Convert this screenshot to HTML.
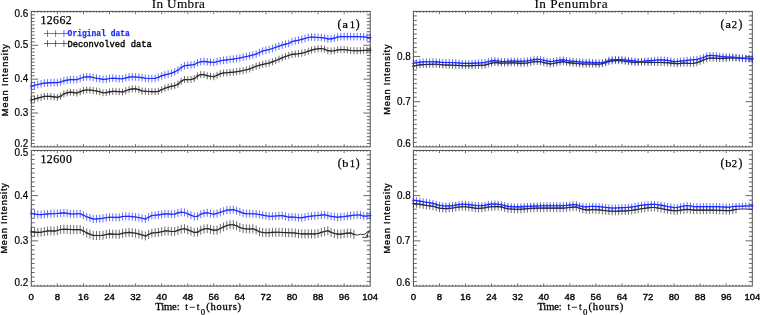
<!DOCTYPE html>
<html><head><meta charset="utf-8"><style>
html,body{margin:0;padding:0;background:#fff;width:760px;height:315px;overflow:hidden}
svg{display:block;filter:blur(0.4px)}
</style></head><body>
<svg width="760" height="315" viewBox="0 0 760 315" font-family="Liberation Serif">
<rect width="760" height="315" fill="#fff"/>
<path d="M34.56 146.9v-1.35M34.56 11.4v1.35M37.82 146.9v-1.35M37.82 11.4v1.35M41.08 146.9v-1.35M41.08 11.4v1.35M44.33 146.9v-1.35M44.33 11.4v1.35M47.59 146.9v-1.35M47.59 11.4v1.35M50.85 146.9v-1.35M50.85 11.4v1.35M54.11 146.9v-1.35M54.11 11.4v1.35M57.37 146.9v-2.7M57.37 11.4v2.7M60.63 146.9v-1.35M60.63 11.4v1.35M63.89 146.9v-1.35M63.89 11.4v1.35M67.15 146.9v-1.35M67.15 11.4v1.35M70.4 146.9v-1.35M70.4 11.4v1.35M73.66 146.9v-1.35M73.66 11.4v1.35M76.92 146.9v-1.35M76.92 11.4v1.35M80.18 146.9v-1.35M80.18 11.4v1.35M83.44 146.9v-2.7M83.44 11.4v2.7M86.7 146.9v-1.35M86.7 11.4v1.35M89.96 146.9v-1.35M89.96 11.4v1.35M93.21 146.9v-1.35M93.21 11.4v1.35M96.47 146.9v-1.35M96.47 11.4v1.35M99.73 146.9v-1.35M99.73 11.4v1.35M102.99 146.9v-1.35M102.99 11.4v1.35M106.25 146.9v-1.35M106.25 11.4v1.35M109.51 146.9v-2.7M109.51 11.4v2.7M112.77 146.9v-1.35M112.77 11.4v1.35M116.02 146.9v-1.35M116.02 11.4v1.35M119.28 146.9v-1.35M119.28 11.4v1.35M122.54 146.9v-1.35M122.54 11.4v1.35M125.8 146.9v-1.35M125.8 11.4v1.35M129.06 146.9v-1.35M129.06 11.4v1.35M132.32 146.9v-1.35M132.32 11.4v1.35M135.58 146.9v-2.7M135.58 11.4v2.7M138.84 146.9v-1.35M138.84 11.4v1.35M142.09 146.9v-1.35M142.09 11.4v1.35M145.35 146.9v-1.35M145.35 11.4v1.35M148.61 146.9v-1.35M148.61 11.4v1.35M151.87 146.9v-1.35M151.87 11.4v1.35M155.13 146.9v-1.35M155.13 11.4v1.35M158.39 146.9v-1.35M158.39 11.4v1.35M161.65 146.9v-2.7M161.65 11.4v2.7M164.9 146.9v-1.35M164.9 11.4v1.35M168.16 146.9v-1.35M168.16 11.4v1.35M171.42 146.9v-1.35M171.42 11.4v1.35M174.68 146.9v-1.35M174.68 11.4v1.35M177.94 146.9v-1.35M177.94 11.4v1.35M181.2 146.9v-1.35M181.2 11.4v1.35M184.46 146.9v-1.35M184.46 11.4v1.35M187.72 146.9v-2.7M187.72 11.4v2.7M190.97 146.9v-1.35M190.97 11.4v1.35M194.23 146.9v-1.35M194.23 11.4v1.35M197.49 146.9v-1.35M197.49 11.4v1.35M200.75 146.9v-1.35M200.75 11.4v1.35M204.01 146.9v-1.35M204.01 11.4v1.35M207.27 146.9v-1.35M207.27 11.4v1.35M210.53 146.9v-1.35M210.53 11.4v1.35M213.78 146.9v-2.7M213.78 11.4v2.7M217.04 146.9v-1.35M217.04 11.4v1.35M220.3 146.9v-1.35M220.3 11.4v1.35M223.56 146.9v-1.35M223.56 11.4v1.35M226.82 146.9v-1.35M226.82 11.4v1.35M230.08 146.9v-1.35M230.08 11.4v1.35M233.34 146.9v-1.35M233.34 11.4v1.35M236.6 146.9v-1.35M236.6 11.4v1.35M239.85 146.9v-2.7M239.85 11.4v2.7M243.11 146.9v-1.35M243.11 11.4v1.35M246.37 146.9v-1.35M246.37 11.4v1.35M249.63 146.9v-1.35M249.63 11.4v1.35M252.89 146.9v-1.35M252.89 11.4v1.35M256.15 146.9v-1.35M256.15 11.4v1.35M259.41 146.9v-1.35M259.41 11.4v1.35M262.66 146.9v-1.35M262.66 11.4v1.35M265.92 146.9v-2.7M265.92 11.4v2.7M269.18 146.9v-1.35M269.18 11.4v1.35M272.44 146.9v-1.35M272.44 11.4v1.35M275.7 146.9v-1.35M275.7 11.4v1.35M278.96 146.9v-1.35M278.96 11.4v1.35M282.22 146.9v-1.35M282.22 11.4v1.35M285.47 146.9v-1.35M285.47 11.4v1.35M288.73 146.9v-1.35M288.73 11.4v1.35M291.99 146.9v-2.7M291.99 11.4v2.7M295.25 146.9v-1.35M295.25 11.4v1.35M298.51 146.9v-1.35M298.51 11.4v1.35M301.77 146.9v-1.35M301.77 11.4v1.35M305.03 146.9v-1.35M305.03 11.4v1.35M308.29 146.9v-1.35M308.29 11.4v1.35M311.54 146.9v-1.35M311.54 11.4v1.35M314.8 146.9v-1.35M314.8 11.4v1.35M318.06 146.9v-2.7M318.06 11.4v2.7M321.32 146.9v-1.35M321.32 11.4v1.35M324.58 146.9v-1.35M324.58 11.4v1.35M327.84 146.9v-1.35M327.84 11.4v1.35M331.1 146.9v-1.35M331.1 11.4v1.35M334.35 146.9v-1.35M334.35 11.4v1.35M337.61 146.9v-1.35M337.61 11.4v1.35M340.87 146.9v-1.35M340.87 11.4v1.35M344.13 146.9v-2.7M344.13 11.4v2.7M347.39 146.9v-1.35M347.39 11.4v1.35M350.65 146.9v-1.35M350.65 11.4v1.35M353.91 146.9v-1.35M353.91 11.4v1.35M357.17 146.9v-1.35M357.17 11.4v1.35M360.42 146.9v-1.35M360.42 11.4v1.35M363.68 146.9v-1.35M363.68 11.4v1.35M366.94 146.9v-1.35M366.94 11.4v1.35M31.3 143.51h3.4M370.2 143.51h-3.4M31.3 140.12h3.4M370.2 140.12h-3.4M31.3 136.74h3.4M370.2 136.74h-3.4M31.3 133.35h3.4M370.2 133.35h-3.4M31.3 129.96h3.4M370.2 129.96h-3.4M31.3 126.58h3.4M370.2 126.58h-3.4M31.3 123.19h3.4M370.2 123.19h-3.4M31.3 119.8h3.4M370.2 119.8h-3.4M31.3 116.41h3.4M370.2 116.41h-3.4M31.3 113.03h6.8M370.2 113.03h-6.8M31.3 109.64h3.4M370.2 109.64h-3.4M31.3 106.25h3.4M370.2 106.25h-3.4M31.3 102.86h3.4M370.2 102.86h-3.4M31.3 99.48h3.4M370.2 99.48h-3.4M31.3 96.09h3.4M370.2 96.09h-3.4M31.3 92.7h3.4M370.2 92.7h-3.4M31.3 89.31h3.4M370.2 89.31h-3.4M31.3 85.93h3.4M370.2 85.93h-3.4M31.3 82.54h3.4M370.2 82.54h-3.4M31.3 79.15h6.8M370.2 79.15h-6.8M31.3 75.76h3.4M370.2 75.76h-3.4M31.3 72.38h3.4M370.2 72.38h-3.4M31.3 68.99h3.4M370.2 68.99h-3.4M31.3 65.6h3.4M370.2 65.6h-3.4M31.3 62.21h3.4M370.2 62.21h-3.4M31.3 58.83h3.4M370.2 58.83h-3.4M31.3 55.44h3.4M370.2 55.44h-3.4M31.3 52.05h3.4M370.2 52.05h-3.4M31.3 48.66h3.4M370.2 48.66h-3.4M31.3 45.28h6.8M370.2 45.28h-6.8M31.3 41.89h3.4M370.2 41.89h-3.4M31.3 38.5h3.4M370.2 38.5h-3.4M31.3 35.11h3.4M370.2 35.11h-3.4M31.3 31.73h3.4M370.2 31.73h-3.4M31.3 28.34h3.4M370.2 28.34h-3.4M31.3 24.95h3.4M370.2 24.95h-3.4M31.3 21.56h3.4M370.2 21.56h-3.4M31.3 18.18h3.4M370.2 18.18h-3.4M31.3 14.79h3.4M370.2 14.79h-3.4" stroke="#4d4d4d" stroke-width="0.85" fill="none"/>
<rect x="31.3" y="11.4" width="338.9" height="135.5" stroke="#4d4d4d" stroke-width="1.0" fill="none"/>
<path d="M34.56 286.1v-1.35M34.56 150.4v1.35M37.82 286.1v-1.35M37.82 150.4v1.35M41.08 286.1v-1.35M41.08 150.4v1.35M44.33 286.1v-1.35M44.33 150.4v1.35M47.59 286.1v-1.35M47.59 150.4v1.35M50.85 286.1v-1.35M50.85 150.4v1.35M54.11 286.1v-1.35M54.11 150.4v1.35M57.37 286.1v-2.7M57.37 150.4v2.7M60.63 286.1v-1.35M60.63 150.4v1.35M63.89 286.1v-1.35M63.89 150.4v1.35M67.15 286.1v-1.35M67.15 150.4v1.35M70.4 286.1v-1.35M70.4 150.4v1.35M73.66 286.1v-1.35M73.66 150.4v1.35M76.92 286.1v-1.35M76.92 150.4v1.35M80.18 286.1v-1.35M80.18 150.4v1.35M83.44 286.1v-2.7M83.44 150.4v2.7M86.7 286.1v-1.35M86.7 150.4v1.35M89.96 286.1v-1.35M89.96 150.4v1.35M93.21 286.1v-1.35M93.21 150.4v1.35M96.47 286.1v-1.35M96.47 150.4v1.35M99.73 286.1v-1.35M99.73 150.4v1.35M102.99 286.1v-1.35M102.99 150.4v1.35M106.25 286.1v-1.35M106.25 150.4v1.35M109.51 286.1v-2.7M109.51 150.4v2.7M112.77 286.1v-1.35M112.77 150.4v1.35M116.02 286.1v-1.35M116.02 150.4v1.35M119.28 286.1v-1.35M119.28 150.4v1.35M122.54 286.1v-1.35M122.54 150.4v1.35M125.8 286.1v-1.35M125.8 150.4v1.35M129.06 286.1v-1.35M129.06 150.4v1.35M132.32 286.1v-1.35M132.32 150.4v1.35M135.58 286.1v-2.7M135.58 150.4v2.7M138.84 286.1v-1.35M138.84 150.4v1.35M142.09 286.1v-1.35M142.09 150.4v1.35M145.35 286.1v-1.35M145.35 150.4v1.35M148.61 286.1v-1.35M148.61 150.4v1.35M151.87 286.1v-1.35M151.87 150.4v1.35M155.13 286.1v-1.35M155.13 150.4v1.35M158.39 286.1v-1.35M158.39 150.4v1.35M161.65 286.1v-2.7M161.65 150.4v2.7M164.9 286.1v-1.35M164.9 150.4v1.35M168.16 286.1v-1.35M168.16 150.4v1.35M171.42 286.1v-1.35M171.42 150.4v1.35M174.68 286.1v-1.35M174.68 150.4v1.35M177.94 286.1v-1.35M177.94 150.4v1.35M181.2 286.1v-1.35M181.2 150.4v1.35M184.46 286.1v-1.35M184.46 150.4v1.35M187.72 286.1v-2.7M187.72 150.4v2.7M190.97 286.1v-1.35M190.97 150.4v1.35M194.23 286.1v-1.35M194.23 150.4v1.35M197.49 286.1v-1.35M197.49 150.4v1.35M200.75 286.1v-1.35M200.75 150.4v1.35M204.01 286.1v-1.35M204.01 150.4v1.35M207.27 286.1v-1.35M207.27 150.4v1.35M210.53 286.1v-1.35M210.53 150.4v1.35M213.78 286.1v-2.7M213.78 150.4v2.7M217.04 286.1v-1.35M217.04 150.4v1.35M220.3 286.1v-1.35M220.3 150.4v1.35M223.56 286.1v-1.35M223.56 150.4v1.35M226.82 286.1v-1.35M226.82 150.4v1.35M230.08 286.1v-1.35M230.08 150.4v1.35M233.34 286.1v-1.35M233.34 150.4v1.35M236.6 286.1v-1.35M236.6 150.4v1.35M239.85 286.1v-2.7M239.85 150.4v2.7M243.11 286.1v-1.35M243.11 150.4v1.35M246.37 286.1v-1.35M246.37 150.4v1.35M249.63 286.1v-1.35M249.63 150.4v1.35M252.89 286.1v-1.35M252.89 150.4v1.35M256.15 286.1v-1.35M256.15 150.4v1.35M259.41 286.1v-1.35M259.41 150.4v1.35M262.66 286.1v-1.35M262.66 150.4v1.35M265.92 286.1v-2.7M265.92 150.4v2.7M269.18 286.1v-1.35M269.18 150.4v1.35M272.44 286.1v-1.35M272.44 150.4v1.35M275.7 286.1v-1.35M275.7 150.4v1.35M278.96 286.1v-1.35M278.96 150.4v1.35M282.22 286.1v-1.35M282.22 150.4v1.35M285.47 286.1v-1.35M285.47 150.4v1.35M288.73 286.1v-1.35M288.73 150.4v1.35M291.99 286.1v-2.7M291.99 150.4v2.7M295.25 286.1v-1.35M295.25 150.4v1.35M298.51 286.1v-1.35M298.51 150.4v1.35M301.77 286.1v-1.35M301.77 150.4v1.35M305.03 286.1v-1.35M305.03 150.4v1.35M308.29 286.1v-1.35M308.29 150.4v1.35M311.54 286.1v-1.35M311.54 150.4v1.35M314.8 286.1v-1.35M314.8 150.4v1.35M318.06 286.1v-2.7M318.06 150.4v2.7M321.32 286.1v-1.35M321.32 150.4v1.35M324.58 286.1v-1.35M324.58 150.4v1.35M327.84 286.1v-1.35M327.84 150.4v1.35M331.1 286.1v-1.35M331.1 150.4v1.35M334.35 286.1v-1.35M334.35 150.4v1.35M337.61 286.1v-1.35M337.61 150.4v1.35M340.87 286.1v-1.35M340.87 150.4v1.35M344.13 286.1v-2.7M344.13 150.4v2.7M347.39 286.1v-1.35M347.39 150.4v1.35M350.65 286.1v-1.35M350.65 150.4v1.35M353.91 286.1v-1.35M353.91 150.4v1.35M357.17 286.1v-1.35M357.17 150.4v1.35M360.42 286.1v-1.35M360.42 150.4v1.35M363.68 286.1v-1.35M363.68 150.4v1.35M366.94 286.1v-1.35M366.94 150.4v1.35M31.3 281.58h3.4M370.2 281.58h-3.4M31.3 277.05h3.4M370.2 277.05h-3.4M31.3 272.53h3.4M370.2 272.53h-3.4M31.3 268.01h3.4M370.2 268.01h-3.4M31.3 263.48h3.4M370.2 263.48h-3.4M31.3 258.96h3.4M370.2 258.96h-3.4M31.3 254.44h3.4M370.2 254.44h-3.4M31.3 249.91h3.4M370.2 249.91h-3.4M31.3 245.39h3.4M370.2 245.39h-3.4M31.3 240.87h6.8M370.2 240.87h-6.8M31.3 236.34h3.4M370.2 236.34h-3.4M31.3 231.82h3.4M370.2 231.82h-3.4M31.3 227.3h3.4M370.2 227.3h-3.4M31.3 222.77h3.4M370.2 222.77h-3.4M31.3 218.25h3.4M370.2 218.25h-3.4M31.3 213.73h3.4M370.2 213.73h-3.4M31.3 209.2h3.4M370.2 209.2h-3.4M31.3 204.68h3.4M370.2 204.68h-3.4M31.3 200.16h3.4M370.2 200.16h-3.4M31.3 195.63h6.8M370.2 195.63h-6.8M31.3 191.11h3.4M370.2 191.11h-3.4M31.3 186.59h3.4M370.2 186.59h-3.4M31.3 182.06h3.4M370.2 182.06h-3.4M31.3 177.54h3.4M370.2 177.54h-3.4M31.3 173.02h3.4M370.2 173.02h-3.4M31.3 168.49h3.4M370.2 168.49h-3.4M31.3 163.97h3.4M370.2 163.97h-3.4M31.3 159.45h3.4M370.2 159.45h-3.4M31.3 154.92h3.4M370.2 154.92h-3.4" stroke="#4d4d4d" stroke-width="0.85" fill="none"/>
<rect x="31.3" y="150.4" width="338.9" height="135.7" stroke="#4d4d4d" stroke-width="1.0" fill="none"/>
<path d="M416.66 146.9v-1.35M416.66 11.4v1.35M419.92 146.9v-1.35M419.92 11.4v1.35M423.18 146.9v-1.35M423.18 11.4v1.35M426.43 146.9v-1.35M426.43 11.4v1.35M429.69 146.9v-1.35M429.69 11.4v1.35M432.95 146.9v-1.35M432.95 11.4v1.35M436.21 146.9v-1.35M436.21 11.4v1.35M439.47 146.9v-2.7M439.47 11.4v2.7M442.73 146.9v-1.35M442.73 11.4v1.35M445.99 146.9v-1.35M445.99 11.4v1.35M449.25 146.9v-1.35M449.25 11.4v1.35M452.5 146.9v-1.35M452.5 11.4v1.35M455.76 146.9v-1.35M455.76 11.4v1.35M459.02 146.9v-1.35M459.02 11.4v1.35M462.28 146.9v-1.35M462.28 11.4v1.35M465.54 146.9v-2.7M465.54 11.4v2.7M468.8 146.9v-1.35M468.8 11.4v1.35M472.06 146.9v-1.35M472.06 11.4v1.35M475.31 146.9v-1.35M475.31 11.4v1.35M478.57 146.9v-1.35M478.57 11.4v1.35M481.83 146.9v-1.35M481.83 11.4v1.35M485.09 146.9v-1.35M485.09 11.4v1.35M488.35 146.9v-1.35M488.35 11.4v1.35M491.61 146.9v-2.7M491.61 11.4v2.7M494.87 146.9v-1.35M494.87 11.4v1.35M498.12 146.9v-1.35M498.12 11.4v1.35M501.38 146.9v-1.35M501.38 11.4v1.35M504.64 146.9v-1.35M504.64 11.4v1.35M507.9 146.9v-1.35M507.9 11.4v1.35M511.16 146.9v-1.35M511.16 11.4v1.35M514.42 146.9v-1.35M514.42 11.4v1.35M517.68 146.9v-2.7M517.68 11.4v2.7M520.94 146.9v-1.35M520.94 11.4v1.35M524.19 146.9v-1.35M524.19 11.4v1.35M527.45 146.9v-1.35M527.45 11.4v1.35M530.71 146.9v-1.35M530.71 11.4v1.35M533.97 146.9v-1.35M533.97 11.4v1.35M537.23 146.9v-1.35M537.23 11.4v1.35M540.49 146.9v-1.35M540.49 11.4v1.35M543.75 146.9v-2.7M543.75 11.4v2.7M547 146.9v-1.35M547 11.4v1.35M550.26 146.9v-1.35M550.26 11.4v1.35M553.52 146.9v-1.35M553.52 11.4v1.35M556.78 146.9v-1.35M556.78 11.4v1.35M560.04 146.9v-1.35M560.04 11.4v1.35M563.3 146.9v-1.35M563.3 11.4v1.35M566.56 146.9v-1.35M566.56 11.4v1.35M569.82 146.9v-2.7M569.82 11.4v2.7M573.07 146.9v-1.35M573.07 11.4v1.35M576.33 146.9v-1.35M576.33 11.4v1.35M579.59 146.9v-1.35M579.59 11.4v1.35M582.85 146.9v-1.35M582.85 11.4v1.35M586.11 146.9v-1.35M586.11 11.4v1.35M589.37 146.9v-1.35M589.37 11.4v1.35M592.63 146.9v-1.35M592.63 11.4v1.35M595.88 146.9v-2.7M595.88 11.4v2.7M599.14 146.9v-1.35M599.14 11.4v1.35M602.4 146.9v-1.35M602.4 11.4v1.35M605.66 146.9v-1.35M605.66 11.4v1.35M608.92 146.9v-1.35M608.92 11.4v1.35M612.18 146.9v-1.35M612.18 11.4v1.35M615.44 146.9v-1.35M615.44 11.4v1.35M618.7 146.9v-1.35M618.7 11.4v1.35M621.95 146.9v-2.7M621.95 11.4v2.7M625.21 146.9v-1.35M625.21 11.4v1.35M628.47 146.9v-1.35M628.47 11.4v1.35M631.73 146.9v-1.35M631.73 11.4v1.35M634.99 146.9v-1.35M634.99 11.4v1.35M638.25 146.9v-1.35M638.25 11.4v1.35M641.51 146.9v-1.35M641.51 11.4v1.35M644.76 146.9v-1.35M644.76 11.4v1.35M648.02 146.9v-2.7M648.02 11.4v2.7M651.28 146.9v-1.35M651.28 11.4v1.35M654.54 146.9v-1.35M654.54 11.4v1.35M657.8 146.9v-1.35M657.8 11.4v1.35M661.06 146.9v-1.35M661.06 11.4v1.35M664.32 146.9v-1.35M664.32 11.4v1.35M667.57 146.9v-1.35M667.57 11.4v1.35M670.83 146.9v-1.35M670.83 11.4v1.35M674.09 146.9v-2.7M674.09 11.4v2.7M677.35 146.9v-1.35M677.35 11.4v1.35M680.61 146.9v-1.35M680.61 11.4v1.35M683.87 146.9v-1.35M683.87 11.4v1.35M687.13 146.9v-1.35M687.13 11.4v1.35M690.39 146.9v-1.35M690.39 11.4v1.35M693.64 146.9v-1.35M693.64 11.4v1.35M696.9 146.9v-1.35M696.9 11.4v1.35M700.16 146.9v-2.7M700.16 11.4v2.7M703.42 146.9v-1.35M703.42 11.4v1.35M706.68 146.9v-1.35M706.68 11.4v1.35M709.94 146.9v-1.35M709.94 11.4v1.35M713.2 146.9v-1.35M713.2 11.4v1.35M716.45 146.9v-1.35M716.45 11.4v1.35M719.71 146.9v-1.35M719.71 11.4v1.35M722.97 146.9v-1.35M722.97 11.4v1.35M726.23 146.9v-2.7M726.23 11.4v2.7M729.49 146.9v-1.35M729.49 11.4v1.35M732.75 146.9v-1.35M732.75 11.4v1.35M736.01 146.9v-1.35M736.01 11.4v1.35M739.27 146.9v-1.35M739.27 11.4v1.35M742.52 146.9v-1.35M742.52 11.4v1.35M745.78 146.9v-1.35M745.78 11.4v1.35M749.04 146.9v-1.35M749.04 11.4v1.35M413.4 142.38h3.4M752.3 142.38h-3.4M413.4 137.87h3.4M752.3 137.87h-3.4M413.4 133.35h3.4M752.3 133.35h-3.4M413.4 128.83h3.4M752.3 128.83h-3.4M413.4 124.32h3.4M752.3 124.32h-3.4M413.4 119.8h3.4M752.3 119.8h-3.4M413.4 115.28h3.4M752.3 115.28h-3.4M413.4 110.77h3.4M752.3 110.77h-3.4M413.4 106.25h3.4M752.3 106.25h-3.4M413.4 101.73h6.8M752.3 101.73h-6.8M413.4 97.22h3.4M752.3 97.22h-3.4M413.4 92.7h3.4M752.3 92.7h-3.4M413.4 88.18h3.4M752.3 88.18h-3.4M413.4 83.67h3.4M752.3 83.67h-3.4M413.4 79.15h3.4M752.3 79.15h-3.4M413.4 74.63h3.4M752.3 74.63h-3.4M413.4 70.12h3.4M752.3 70.12h-3.4M413.4 65.6h3.4M752.3 65.6h-3.4M413.4 61.08h3.4M752.3 61.08h-3.4M413.4 56.57h6.8M752.3 56.57h-6.8M413.4 52.05h3.4M752.3 52.05h-3.4M413.4 47.53h3.4M752.3 47.53h-3.4M413.4 43.02h3.4M752.3 43.02h-3.4M413.4 38.5h3.4M752.3 38.5h-3.4M413.4 33.98h3.4M752.3 33.98h-3.4M413.4 29.47h3.4M752.3 29.47h-3.4M413.4 24.95h3.4M752.3 24.95h-3.4M413.4 20.43h3.4M752.3 20.43h-3.4M413.4 15.92h3.4M752.3 15.92h-3.4" stroke="#4d4d4d" stroke-width="0.85" fill="none"/>
<rect x="413.4" y="11.4" width="338.9" height="135.5" stroke="#4d4d4d" stroke-width="1.0" fill="none"/>
<path d="M416.66 286.1v-1.35M416.66 150.4v1.35M419.92 286.1v-1.35M419.92 150.4v1.35M423.18 286.1v-1.35M423.18 150.4v1.35M426.43 286.1v-1.35M426.43 150.4v1.35M429.69 286.1v-1.35M429.69 150.4v1.35M432.95 286.1v-1.35M432.95 150.4v1.35M436.21 286.1v-1.35M436.21 150.4v1.35M439.47 286.1v-2.7M439.47 150.4v2.7M442.73 286.1v-1.35M442.73 150.4v1.35M445.99 286.1v-1.35M445.99 150.4v1.35M449.25 286.1v-1.35M449.25 150.4v1.35M452.5 286.1v-1.35M452.5 150.4v1.35M455.76 286.1v-1.35M455.76 150.4v1.35M459.02 286.1v-1.35M459.02 150.4v1.35M462.28 286.1v-1.35M462.28 150.4v1.35M465.54 286.1v-2.7M465.54 150.4v2.7M468.8 286.1v-1.35M468.8 150.4v1.35M472.06 286.1v-1.35M472.06 150.4v1.35M475.31 286.1v-1.35M475.31 150.4v1.35M478.57 286.1v-1.35M478.57 150.4v1.35M481.83 286.1v-1.35M481.83 150.4v1.35M485.09 286.1v-1.35M485.09 150.4v1.35M488.35 286.1v-1.35M488.35 150.4v1.35M491.61 286.1v-2.7M491.61 150.4v2.7M494.87 286.1v-1.35M494.87 150.4v1.35M498.12 286.1v-1.35M498.12 150.4v1.35M501.38 286.1v-1.35M501.38 150.4v1.35M504.64 286.1v-1.35M504.64 150.4v1.35M507.9 286.1v-1.35M507.9 150.4v1.35M511.16 286.1v-1.35M511.16 150.4v1.35M514.42 286.1v-1.35M514.42 150.4v1.35M517.68 286.1v-2.7M517.68 150.4v2.7M520.94 286.1v-1.35M520.94 150.4v1.35M524.19 286.1v-1.35M524.19 150.4v1.35M527.45 286.1v-1.35M527.45 150.4v1.35M530.71 286.1v-1.35M530.71 150.4v1.35M533.97 286.1v-1.35M533.97 150.4v1.35M537.23 286.1v-1.35M537.23 150.4v1.35M540.49 286.1v-1.35M540.49 150.4v1.35M543.75 286.1v-2.7M543.75 150.4v2.7M547 286.1v-1.35M547 150.4v1.35M550.26 286.1v-1.35M550.26 150.4v1.35M553.52 286.1v-1.35M553.52 150.4v1.35M556.78 286.1v-1.35M556.78 150.4v1.35M560.04 286.1v-1.35M560.04 150.4v1.35M563.3 286.1v-1.35M563.3 150.4v1.35M566.56 286.1v-1.35M566.56 150.4v1.35M569.82 286.1v-2.7M569.82 150.4v2.7M573.07 286.1v-1.35M573.07 150.4v1.35M576.33 286.1v-1.35M576.33 150.4v1.35M579.59 286.1v-1.35M579.59 150.4v1.35M582.85 286.1v-1.35M582.85 150.4v1.35M586.11 286.1v-1.35M586.11 150.4v1.35M589.37 286.1v-1.35M589.37 150.4v1.35M592.63 286.1v-1.35M592.63 150.4v1.35M595.88 286.1v-2.7M595.88 150.4v2.7M599.14 286.1v-1.35M599.14 150.4v1.35M602.4 286.1v-1.35M602.4 150.4v1.35M605.66 286.1v-1.35M605.66 150.4v1.35M608.92 286.1v-1.35M608.92 150.4v1.35M612.18 286.1v-1.35M612.18 150.4v1.35M615.44 286.1v-1.35M615.44 150.4v1.35M618.7 286.1v-1.35M618.7 150.4v1.35M621.95 286.1v-2.7M621.95 150.4v2.7M625.21 286.1v-1.35M625.21 150.4v1.35M628.47 286.1v-1.35M628.47 150.4v1.35M631.73 286.1v-1.35M631.73 150.4v1.35M634.99 286.1v-1.35M634.99 150.4v1.35M638.25 286.1v-1.35M638.25 150.4v1.35M641.51 286.1v-1.35M641.51 150.4v1.35M644.76 286.1v-1.35M644.76 150.4v1.35M648.02 286.1v-2.7M648.02 150.4v2.7M651.28 286.1v-1.35M651.28 150.4v1.35M654.54 286.1v-1.35M654.54 150.4v1.35M657.8 286.1v-1.35M657.8 150.4v1.35M661.06 286.1v-1.35M661.06 150.4v1.35M664.32 286.1v-1.35M664.32 150.4v1.35M667.57 286.1v-1.35M667.57 150.4v1.35M670.83 286.1v-1.35M670.83 150.4v1.35M674.09 286.1v-2.7M674.09 150.4v2.7M677.35 286.1v-1.35M677.35 150.4v1.35M680.61 286.1v-1.35M680.61 150.4v1.35M683.87 286.1v-1.35M683.87 150.4v1.35M687.13 286.1v-1.35M687.13 150.4v1.35M690.39 286.1v-1.35M690.39 150.4v1.35M693.64 286.1v-1.35M693.64 150.4v1.35M696.9 286.1v-1.35M696.9 150.4v1.35M700.16 286.1v-2.7M700.16 150.4v2.7M703.42 286.1v-1.35M703.42 150.4v1.35M706.68 286.1v-1.35M706.68 150.4v1.35M709.94 286.1v-1.35M709.94 150.4v1.35M713.2 286.1v-1.35M713.2 150.4v1.35M716.45 286.1v-1.35M716.45 150.4v1.35M719.71 286.1v-1.35M719.71 150.4v1.35M722.97 286.1v-1.35M722.97 150.4v1.35M726.23 286.1v-2.7M726.23 150.4v2.7M729.49 286.1v-1.35M729.49 150.4v1.35M732.75 286.1v-1.35M732.75 150.4v1.35M736.01 286.1v-1.35M736.01 150.4v1.35M739.27 286.1v-1.35M739.27 150.4v1.35M742.52 286.1v-1.35M742.52 150.4v1.35M745.78 286.1v-1.35M745.78 150.4v1.35M749.04 286.1v-1.35M749.04 150.4v1.35M413.4 281.58h3.4M752.3 281.58h-3.4M413.4 277.05h3.4M752.3 277.05h-3.4M413.4 272.53h3.4M752.3 272.53h-3.4M413.4 268.01h3.4M752.3 268.01h-3.4M413.4 263.48h3.4M752.3 263.48h-3.4M413.4 258.96h3.4M752.3 258.96h-3.4M413.4 254.44h3.4M752.3 254.44h-3.4M413.4 249.91h3.4M752.3 249.91h-3.4M413.4 245.39h3.4M752.3 245.39h-3.4M413.4 240.87h6.8M752.3 240.87h-6.8M413.4 236.34h3.4M752.3 236.34h-3.4M413.4 231.82h3.4M752.3 231.82h-3.4M413.4 227.3h3.4M752.3 227.3h-3.4M413.4 222.77h3.4M752.3 222.77h-3.4M413.4 218.25h3.4M752.3 218.25h-3.4M413.4 213.73h3.4M752.3 213.73h-3.4M413.4 209.2h3.4M752.3 209.2h-3.4M413.4 204.68h3.4M752.3 204.68h-3.4M413.4 200.16h3.4M752.3 200.16h-3.4M413.4 195.63h6.8M752.3 195.63h-6.8M413.4 191.11h3.4M752.3 191.11h-3.4M413.4 186.59h3.4M752.3 186.59h-3.4M413.4 182.06h3.4M752.3 182.06h-3.4M413.4 177.54h3.4M752.3 177.54h-3.4M413.4 173.02h3.4M752.3 173.02h-3.4M413.4 168.49h3.4M752.3 168.49h-3.4M413.4 163.97h3.4M752.3 163.97h-3.4M413.4 159.45h3.4M752.3 159.45h-3.4M413.4 154.92h3.4M752.3 154.92h-3.4" stroke="#4d4d4d" stroke-width="0.85" fill="none"/>
<rect x="413.4" y="150.4" width="338.9" height="135.7" stroke="#4d4d4d" stroke-width="1.0" fill="none"/>
<polyline points="31.3,100 34.56,99.06 37.82,98.11 41.08,97.25 44.33,96.4 47.59,96.4 50.85,96.4 54.11,96.85 57.37,97.39 60.63,96.18 63.89,93.89 67.15,92.85 70.4,92.16 73.66,92.62 76.92,93.07 80.18,91.77 83.44,90.37 86.7,90 89.96,90 93.21,90.5 96.47,91 99.73,91.83 102.99,92.74 106.25,92.63 109.51,91.85 112.77,91.4 116.02,91.4 119.28,91.68 122.54,92.03 125.8,90.81 129.06,89.59 132.32,88.9 135.58,88.9 138.84,89.62 142.09,91.01 145.35,91.25 148.61,91.5 151.87,91.6 155.13,91.6 158.39,91.35 161.65,89.7 164.9,88.19 168.16,87.22 171.42,86.33 174.68,85.66 177.94,84.26 181.2,81.3 184.46,79.47 187.72,79.68 190.97,79.46 194.23,78.64 197.49,75.97 200.75,74.6 204.01,74.64 207.27,75.84 210.53,76.3 213.78,76.77 217.04,75.28 220.3,73.65 223.56,73.04 226.82,72.72 230.08,72.42 233.34,72.14 236.6,71.73 239.85,71.17 243.11,70.55 246.37,69.8 249.63,68.94 252.89,67.57 256.15,66.23 259.41,65.3 262.66,64.37 265.92,63.7 269.18,63.04 272.44,61.88 275.7,60.58 278.96,59.22 282.22,57.82 285.47,56.55 288.73,55.43 291.99,54.35 295.25,54.09 298.51,53.76 301.77,53.19 305.03,52.41 308.29,51.19 311.54,50.11 314.8,49.28 318.06,48.74 321.32,48.58 324.58,49.18 327.84,50.67 331.1,51.04 334.35,50.76 337.61,49.95 340.87,49.6 344.13,49.6 347.39,49.96 350.65,50.52 353.91,50.7 357.17,50.7 360.42,50.59 363.68,50.43 366.94,50.27 370.2,50.1" fill="none" stroke="#262626" stroke-width="1.1" stroke-linejoin="round"/><path d="M31.3 96.5v7M29.7 100h3.2M34.56 95.56v7M32.96 99.06h3.2M37.82 94.61v7M36.22 98.11h3.2M41.08 93.75v7M39.48 97.25h3.2M44.33 92.9v7M42.73 96.4h3.2M47.59 92.9v7M45.99 96.4h3.2M50.85 92.9v7M49.25 96.4h3.2M54.11 93.35v7M52.51 96.85h3.2M57.37 93.89v7M55.77 97.39h3.2M60.63 92.68v7M59.03 96.18h3.2M63.89 90.39v7M62.29 93.89h3.2M67.15 89.35v7M65.55 92.85h3.2M70.4 88.66v7M68.8 92.16h3.2M73.66 89.12v7M72.06 92.62h3.2M76.92 89.57v7M75.32 93.07h3.2M80.18 88.27v7M78.58 91.77h3.2M83.44 86.87v7M81.84 90.37h3.2M86.7 86.5v7M85.1 90h3.2M89.96 86.5v7M88.36 90h3.2M93.21 87v7M91.61 90.5h3.2M96.47 87.5v7M94.87 91h3.2M99.73 88.33v7M98.13 91.83h3.2M102.99 89.24v7M101.39 92.74h3.2M106.25 89.13v7M104.65 92.63h3.2M109.51 88.35v7M107.91 91.85h3.2M112.77 87.9v7M111.17 91.4h3.2M116.02 87.9v7M114.42 91.4h3.2M119.28 88.18v7M117.68 91.68h3.2M122.54 88.53v7M120.94 92.03h3.2M125.8 87.31v7M124.2 90.81h3.2M129.06 86.09v7M127.46 89.59h3.2M132.32 85.4v7M130.72 88.9h3.2M135.58 85.4v7M133.98 88.9h3.2M138.84 86.12v7M137.24 89.62h3.2M142.09 87.51v7M140.49 91.01h3.2M145.35 87.75v7M143.75 91.25h3.2M148.61 88v7M147.01 91.5h3.2M151.87 88.1v7M150.27 91.6h3.2M155.13 88.1v7M153.53 91.6h3.2M158.39 87.85v7M156.79 91.35h3.2M161.65 86.2v7M160.05 89.7h3.2M164.9 84.69v7M163.3 88.19h3.2M168.16 83.72v7M166.56 87.22h3.2M171.42 82.83v7M169.82 86.33h3.2M174.68 82.16v7M173.08 85.66h3.2M177.94 80.76v7M176.34 84.26h3.2M181.2 77.8v7M179.6 81.3h3.2M184.46 75.97v7M182.86 79.47h3.2M187.72 76.18v7M186.12 79.68h3.2M190.97 75.96v7M189.37 79.46h3.2M194.23 75.14v7M192.63 78.64h3.2M197.49 72.47v7M195.89 75.97h3.2M200.75 71.1v7M199.15 74.6h3.2M204.01 71.14v7M202.41 74.64h3.2M207.27 72.34v7M205.67 75.84h3.2M210.53 72.8v7M208.93 76.3h3.2M213.78 73.27v7M212.18 76.77h3.2M217.04 71.78v7M215.44 75.28h3.2M220.3 70.15v7M218.7 73.65h3.2M223.56 69.54v7M221.96 73.04h3.2M226.82 69.22v7M225.22 72.72h3.2M230.08 68.92v7M228.48 72.42h3.2M233.34 68.64v7M231.74 72.14h3.2M236.6 68.23v7M235 71.73h3.2M239.85 67.67v7M238.25 71.17h3.2M243.11 67.05v7M241.51 70.55h3.2M246.37 66.3v7M244.77 69.8h3.2M249.63 65.44v7M248.03 68.94h3.2M252.89 64.07v7M251.29 67.57h3.2M256.15 62.73v7M254.55 66.23h3.2M259.41 61.8v7M257.81 65.3h3.2M262.66 60.87v7M261.06 64.37h3.2M265.92 60.2v7M264.32 63.7h3.2M269.18 59.54v7M267.58 63.04h3.2M272.44 58.38v7M270.84 61.88h3.2M275.7 57.08v7M274.1 60.58h3.2M278.96 55.72v7M277.36 59.22h3.2M282.22 54.32v7M280.62 57.82h3.2M285.47 53.05v7M283.87 56.55h3.2M288.73 51.93v7M287.13 55.43h3.2M291.99 50.85v7M290.39 54.35h3.2M295.25 50.59v7M293.65 54.09h3.2M298.51 50.26v7M296.91 53.76h3.2M301.77 49.69v7M300.17 53.19h3.2M305.03 48.91v7M303.43 52.41h3.2M308.29 47.69v7M306.69 51.19h3.2M311.54 46.61v7M309.94 50.11h3.2M314.8 45.78v7M313.2 49.28h3.2M318.06 45.24v7M316.46 48.74h3.2M321.32 45.08v7M319.72 48.58h3.2M324.58 45.68v7M322.98 49.18h3.2M327.84 47.17v7M326.24 50.67h3.2M331.1 47.54v7M329.5 51.04h3.2M334.35 47.26v7M332.75 50.76h3.2M337.61 46.45v7M336.01 49.95h3.2M340.87 46.1v7M339.27 49.6h3.2M344.13 46.1v7M342.53 49.6h3.2M347.39 46.46v7M345.79 49.96h3.2M350.65 47.02v7M349.05 50.52h3.2M353.91 47.2v7M352.31 50.7h3.2M357.17 47.2v7M355.57 50.7h3.2M360.42 47.09v7M358.82 50.59h3.2M363.68 46.93v7M362.08 50.43h3.2M366.94 46.77v7M365.34 50.27h3.2M370.2 46.6v7M368.6 50.1h3.2" stroke="#262626" stroke-width="0.9" opacity="0.75" fill="none"/>
<polyline points="31.3,86.1 34.56,85.27 37.82,84.45 41.08,83.77 44.33,83.1 47.59,82.87 50.85,82.64 54.11,82.6 57.37,82.6 60.63,81.92 63.89,80.84 67.15,80.15 70.4,79.6 73.66,79.6 76.92,79.6 80.18,78.45 83.44,77.22 86.7,76.9 89.96,76.9 93.21,77.53 96.47,78.18 99.73,78.78 102.99,79.36 106.25,79.19 109.51,78.5 112.77,78.19 116.02,78.42 119.28,78.7 122.54,78.7 125.8,77.92 129.06,77.14 132.32,76.79 135.58,77 138.84,77.2 142.09,77.65 145.35,78.32 148.61,78.54 151.87,78.44 155.13,78.34 158.39,77.34 161.65,75.84 164.9,74.85 168.16,74.08 171.42,73.17 174.68,71.88 177.94,70.17 181.2,67.57 184.46,65.75 187.72,65.34 190.97,64.96 194.23,64.62 197.49,62.82 200.75,61.73 204.01,61.41 207.27,61.83 210.53,62.15 213.78,62.48 217.04,61.67 220.3,60.79 223.56,60.27 226.82,59.85 230.08,59.46 233.34,59.09 236.6,58.58 239.85,57.93 243.11,57.26 246.37,56.56 249.63,55.84 252.89,54.99 256.15,54.08 259.41,52.55 262.66,51.01 265.92,50.25 269.18,49.55 272.44,48.49 275.7,47.33 278.96,46.17 282.22,45 285.47,44.1 288.73,43.47 291.99,41.56 295.25,40.9 298.51,40.19 301.77,39.37 305.03,38.5 308.29,37.53 311.54,36.99 314.8,37.25 318.06,37.46 321.32,37.62 324.58,38.08 327.84,38.9 331.1,38.91 334.35,38.15 337.61,37.06 340.87,36.6 344.13,36.6 347.39,36.6 350.65,36.6 353.91,36.6 357.17,36.6 360.42,36.71 363.68,36.87 366.94,37.25 370.2,37.7" fill="none" stroke="#1a2cff" stroke-width="1.1" stroke-linejoin="round"/><path d="M31.3 82.3v7.6M29.7 86.1h3.2M34.56 81.47v7.6M32.96 85.27h3.2M37.82 80.65v7.6M36.22 84.45h3.2M41.08 79.97v7.6M39.48 83.77h3.2M44.33 79.3v7.6M42.73 83.1h3.2M47.59 79.07v7.6M45.99 82.87h3.2M50.85 78.84v7.6M49.25 82.64h3.2M54.11 78.8v7.6M52.51 82.6h3.2M57.37 78.8v7.6M55.77 82.6h3.2M60.63 78.12v7.6M59.03 81.92h3.2M63.89 77.04v7.6M62.29 80.84h3.2M67.15 76.35v7.6M65.55 80.15h3.2M70.4 75.8v7.6M68.8 79.6h3.2M73.66 75.8v7.6M72.06 79.6h3.2M76.92 75.8v7.6M75.32 79.6h3.2M80.18 74.65v7.6M78.58 78.45h3.2M83.44 73.42v7.6M81.84 77.22h3.2M86.7 73.1v7.6M85.1 76.9h3.2M89.96 73.1v7.6M88.36 76.9h3.2M93.21 73.73v7.6M91.61 77.53h3.2M96.47 74.38v7.6M94.87 78.18h3.2M99.73 74.98v7.6M98.13 78.78h3.2M102.99 75.56v7.6M101.39 79.36h3.2M106.25 75.39v7.6M104.65 79.19h3.2M109.51 74.7v7.6M107.91 78.5h3.2M112.77 74.39v7.6M111.17 78.19h3.2M116.02 74.62v7.6M114.42 78.42h3.2M119.28 74.9v7.6M117.68 78.7h3.2M122.54 74.9v7.6M120.94 78.7h3.2M125.8 74.12v7.6M124.2 77.92h3.2M129.06 73.34v7.6M127.46 77.14h3.2M132.32 72.99v7.6M130.72 76.79h3.2M135.58 73.2v7.6M133.98 77h3.2M138.84 73.4v7.6M137.24 77.2h3.2M142.09 73.85v7.6M140.49 77.65h3.2M145.35 74.52v7.6M143.75 78.32h3.2M148.61 74.74v7.6M147.01 78.54h3.2M151.87 74.64v7.6M150.27 78.44h3.2M155.13 74.54v7.6M153.53 78.34h3.2M158.39 73.54v7.6M156.79 77.34h3.2M161.65 72.04v7.6M160.05 75.84h3.2M164.9 71.05v7.6M163.3 74.85h3.2M168.16 70.28v7.6M166.56 74.08h3.2M171.42 69.37v7.6M169.82 73.17h3.2M174.68 68.08v7.6M173.08 71.88h3.2M177.94 66.37v7.6M176.34 70.17h3.2M181.2 63.77v7.6M179.6 67.57h3.2M184.46 61.95v7.6M182.86 65.75h3.2M187.72 61.54v7.6M186.12 65.34h3.2M190.97 61.16v7.6M189.37 64.96h3.2M194.23 60.82v7.6M192.63 64.62h3.2M197.49 59.02v7.6M195.89 62.82h3.2M200.75 57.93v7.6M199.15 61.73h3.2M204.01 57.61v7.6M202.41 61.41h3.2M207.27 58.03v7.6M205.67 61.83h3.2M210.53 58.35v7.6M208.93 62.15h3.2M213.78 58.68v7.6M212.18 62.48h3.2M217.04 57.87v7.6M215.44 61.67h3.2M220.3 56.99v7.6M218.7 60.79h3.2M223.56 56.47v7.6M221.96 60.27h3.2M226.82 56.05v7.6M225.22 59.85h3.2M230.08 55.66v7.6M228.48 59.46h3.2M233.34 55.29v7.6M231.74 59.09h3.2M236.6 54.78v7.6M235 58.58h3.2M239.85 54.13v7.6M238.25 57.93h3.2M243.11 53.46v7.6M241.51 57.26h3.2M246.37 52.76v7.6M244.77 56.56h3.2M249.63 52.04v7.6M248.03 55.84h3.2M252.89 51.19v7.6M251.29 54.99h3.2M256.15 50.28v7.6M254.55 54.08h3.2M259.41 48.75v7.6M257.81 52.55h3.2M262.66 47.21v7.6M261.06 51.01h3.2M265.92 46.45v7.6M264.32 50.25h3.2M269.18 45.75v7.6M267.58 49.55h3.2M272.44 44.69v7.6M270.84 48.49h3.2M275.7 43.53v7.6M274.1 47.33h3.2M278.96 42.37v7.6M277.36 46.17h3.2M282.22 41.2v7.6M280.62 45h3.2M285.47 40.3v7.6M283.87 44.1h3.2M288.73 39.67v7.6M287.13 43.47h3.2M291.99 37.76v7.6M290.39 41.56h3.2M295.25 37.1v7.6M293.65 40.9h3.2M298.51 36.39v7.6M296.91 40.19h3.2M301.77 35.57v7.6M300.17 39.37h3.2M305.03 34.7v7.6M303.43 38.5h3.2M308.29 33.73v7.6M306.69 37.53h3.2M311.54 33.19v7.6M309.94 36.99h3.2M314.8 33.45v7.6M313.2 37.25h3.2M318.06 33.66v7.6M316.46 37.46h3.2M321.32 33.82v7.6M319.72 37.62h3.2M324.58 34.28v7.6M322.98 38.08h3.2M327.84 35.1v7.6M326.24 38.9h3.2M331.1 35.11v7.6M329.5 38.91h3.2M334.35 34.35v7.6M332.75 38.15h3.2M337.61 33.26v7.6M336.01 37.06h3.2M340.87 32.8v7.6M339.27 36.6h3.2M344.13 32.8v7.6M342.53 36.6h3.2M347.39 32.8v7.6M345.79 36.6h3.2M350.65 32.8v7.6M349.05 36.6h3.2M353.91 32.8v7.6M352.31 36.6h3.2M357.17 32.8v7.6M355.57 36.6h3.2M360.42 32.91v7.6M358.82 36.71h3.2M363.68 33.07v7.6M362.08 36.87h3.2M366.94 33.45v7.6M365.34 37.25h3.2M370.2 33.9v7.6M368.6 37.7h3.2" stroke="#1a2cff" stroke-width="0.9" opacity="0.75" fill="none"/>
<polyline points="31.3,231.84 34.56,232.1 37.82,232.36 41.08,232.2 44.33,231.58 47.59,230.97 50.85,230.84 54.11,231.1 57.37,230.54 60.63,229.46 63.89,229.21 67.15,229.38 70.4,229.55 73.66,229.6 76.92,229.6 80.18,229.6 83.44,231.07 86.7,232.88 89.96,234.17 93.21,235.39 96.47,235.5 99.73,235.5 102.99,235.18 106.25,234.53 109.51,233.91 112.77,234.08 116.02,234.25 119.28,234.28 122.54,233.22 125.8,232.74 129.06,232.33 132.32,232.72 135.58,233.17 138.84,233.93 142.09,234.99 145.35,235.93 148.61,234.43 151.87,233.06 155.13,232.73 158.39,232.4 161.65,231.74 164.9,230.92 168.16,231.03 171.42,231.48 174.68,231.47 177.94,230.37 181.2,229.27 184.46,228.74 187.72,229.84 190.97,231.11 194.23,232.4 197.49,232.18 200.75,230.16 204.01,229.03 207.27,228.54 210.53,229.36 213.78,230.17 217.04,230.12 220.3,228.46 223.56,226.93 226.82,225.55 230.08,224.8 233.34,224.8 236.6,225.73 239.85,227.51 243.11,228.53 246.37,228.94 249.63,228.97 252.89,228.77 256.15,229.93 259.41,231.79 262.66,232.48 265.92,232.74 269.18,232.6 272.44,232.34 275.7,232.3 278.96,232.3 282.22,232.45 285.47,232.62 288.73,232.79 291.99,232.8 295.25,233.12 298.51,233.57 301.77,233.9 305.03,233.9 308.29,233.9 311.54,233.9 314.8,233.9 318.06,233.45 321.32,232.38 324.58,231.46 327.84,230.71 331.1,232.33 334.35,233.46 337.61,234.12 340.87,234.1 344.13,233.59 347.39,233.14 350.65,233.02 353.91,234.34" fill="none" stroke="#262626" stroke-width="1.1" stroke-linejoin="round"/><polyline points="353.9,234.3 357.1,235.1 360.6,234.3 364,234.6 369.4,230.6" fill="none" stroke="#262626" stroke-width="0.9" stroke-linejoin="round"/><path d="M31.3 227.34v9M29.7 231.84h3.2M34.56 227.6v9M32.96 232.1h3.2M37.82 227.86v9M36.22 232.36h3.2M41.08 227.7v9M39.48 232.2h3.2M44.33 227.08v9M42.73 231.58h3.2M47.59 226.47v9M45.99 230.97h3.2M50.85 226.34v9M49.25 230.84h3.2M54.11 226.6v9M52.51 231.1h3.2M57.37 226.04v9M55.77 230.54h3.2M60.63 224.96v9M59.03 229.46h3.2M63.89 224.71v9M62.29 229.21h3.2M67.15 224.88v9M65.55 229.38h3.2M70.4 225.05v9M68.8 229.55h3.2M73.66 225.1v9M72.06 229.6h3.2M76.92 225.1v9M75.32 229.6h3.2M80.18 225.1v9M78.58 229.6h3.2M83.44 226.57v9M81.84 231.07h3.2M86.7 228.38v9M85.1 232.88h3.2M89.96 229.67v9M88.36 234.17h3.2M93.21 230.89v9M91.61 235.39h3.2M96.47 231v9M94.87 235.5h3.2M99.73 231v9M98.13 235.5h3.2M102.99 230.68v9M101.39 235.18h3.2M106.25 230.03v9M104.65 234.53h3.2M109.51 229.41v9M107.91 233.91h3.2M112.77 229.58v9M111.17 234.08h3.2M116.02 229.75v9M114.42 234.25h3.2M119.28 229.78v9M117.68 234.28h3.2M122.54 228.72v9M120.94 233.22h3.2M125.8 228.24v9M124.2 232.74h3.2M129.06 227.83v9M127.46 232.33h3.2M132.32 228.22v9M130.72 232.72h3.2M135.58 228.67v9M133.98 233.17h3.2M138.84 229.43v9M137.24 233.93h3.2M142.09 230.49v9M140.49 234.99h3.2M145.35 231.43v9M143.75 235.93h3.2M148.61 229.93v9M147.01 234.43h3.2M151.87 228.56v9M150.27 233.06h3.2M155.13 228.23v9M153.53 232.73h3.2M158.39 227.9v9M156.79 232.4h3.2M161.65 227.24v9M160.05 231.74h3.2M164.9 226.42v9M163.3 230.92h3.2M168.16 226.53v9M166.56 231.03h3.2M171.42 226.98v9M169.82 231.48h3.2M174.68 226.97v9M173.08 231.47h3.2M177.94 225.87v9M176.34 230.37h3.2M181.2 224.77v9M179.6 229.27h3.2M184.46 224.24v9M182.86 228.74h3.2M187.72 225.34v9M186.12 229.84h3.2M190.97 226.61v9M189.37 231.11h3.2M194.23 227.9v9M192.63 232.4h3.2M197.49 227.68v9M195.89 232.18h3.2M200.75 225.66v9M199.15 230.16h3.2M204.01 224.53v9M202.41 229.03h3.2M207.27 224.04v9M205.67 228.54h3.2M210.53 224.86v9M208.93 229.36h3.2M213.78 225.67v9M212.18 230.17h3.2M217.04 225.62v9M215.44 230.12h3.2M220.3 223.96v9M218.7 228.46h3.2M223.56 222.43v9M221.96 226.93h3.2M226.82 221.05v9M225.22 225.55h3.2M230.08 220.3v9M228.48 224.8h3.2M233.34 220.3v9M231.74 224.8h3.2M236.6 221.23v9M235 225.73h3.2M239.85 223.01v9M238.25 227.51h3.2M243.11 224.03v9M241.51 228.53h3.2M246.37 224.44v9M244.77 228.94h3.2M249.63 224.47v9M248.03 228.97h3.2M252.89 224.27v9M251.29 228.77h3.2M256.15 225.43v9M254.55 229.93h3.2M259.41 227.29v9M257.81 231.79h3.2M262.66 227.98v9M261.06 232.48h3.2M265.92 228.24v9M264.32 232.74h3.2M269.18 228.1v9M267.58 232.6h3.2M272.44 227.84v9M270.84 232.34h3.2M275.7 227.8v9M274.1 232.3h3.2M278.96 227.8v9M277.36 232.3h3.2M282.22 227.95v9M280.62 232.45h3.2M285.47 228.12v9M283.87 232.62h3.2M288.73 228.29v9M287.13 232.79h3.2M291.99 228.3v9M290.39 232.8h3.2M295.25 228.62v9M293.65 233.12h3.2M298.51 229.07v9M296.91 233.57h3.2M301.77 229.4v9M300.17 233.9h3.2M305.03 229.4v9M303.43 233.9h3.2M308.29 229.4v9M306.69 233.9h3.2M311.54 229.4v9M309.94 233.9h3.2M314.8 229.4v9M313.2 233.9h3.2M318.06 228.95v9M316.46 233.45h3.2M321.32 227.88v9M319.72 232.38h3.2M324.58 226.96v9M322.98 231.46h3.2M327.84 226.21v9M326.24 230.71h3.2M331.1 227.83v9M329.5 232.33h3.2M334.35 228.96v9M332.75 233.46h3.2M337.61 229.62v9M336.01 234.12h3.2M340.87 229.6v9M339.27 234.1h3.2M344.13 229.09v9M342.53 233.59h3.2M347.39 228.64v9M345.79 233.14h3.2M350.65 228.52v9M349.05 233.02h3.2M353.91 229.84v9M352.31 234.34h3.2" stroke="#262626" stroke-width="0.9" opacity="0.75" fill="none"/>
<path d="M366.3 236.3L369.6 230.3M362.3 237.4H366.9M367.4 235V237.8" stroke="#262626" stroke-width="0.9" fill="none"/>
<polyline points="31.3,213.39 34.56,213.95 37.82,214.51 41.08,214.62 44.33,214.24 47.59,213.86 50.85,213.7 54.11,213.7 57.37,213.48 60.63,213.1 63.89,212.89 67.15,213.38 70.4,213.87 73.66,213.93 76.92,213.82 80.18,213.72 83.44,215.18 86.7,216.77 89.96,217.89 93.21,219 96.47,218.87 99.73,218.63 102.99,218.24 106.25,217.71 109.51,217.2 112.77,217.31 116.02,217.41 119.28,217.39 122.54,216.5 125.8,216.4 129.06,216.4 132.32,216.6 135.58,217.05 138.84,217.51 142.09,218.32 145.35,219.02 148.61,217.2 151.87,215.56 155.13,215.23 158.39,214.9 161.65,214.41 164.9,213.85 168.16,213.91 171.42,214.2 174.68,214.05 177.94,212.88 181.2,212.19 184.46,212.47 187.72,213.78 190.97,215.2 194.23,216.5 197.49,216.25 200.75,214.16 204.01,213.15 207.27,212.73 210.53,213.5 213.78,214.28 217.04,213.4 220.3,212.21 223.56,211.17 226.82,210.16 230.08,209.86 233.34,209.61 236.6,210.68 239.85,211.77 243.11,213.15 246.37,213.7 249.63,213.7 252.89,213.8 256.15,213.95 259.41,214.47 262.66,215.13 265.92,215.72 269.18,216.29 272.44,216.23 275.7,216.03 278.96,215.82 282.22,215.62 285.47,216.34 288.73,217.16 291.99,216.97 295.25,217.22 298.51,217.67 301.77,217.82 305.03,217.16 308.29,216.5 311.54,216.12 314.8,215.79 318.06,215.46 321.32,215.14 324.58,214.81 327.84,215.6 331.1,216.41 334.35,216.82 337.61,217.18 340.87,216.85 344.13,216.52 347.39,216.11 350.65,215.66 353.91,215.25 357.17,214.99 360.42,215.07 363.68,216.16 366.94,216.05 370.2,215.6" fill="none" stroke="#1a2cff" stroke-width="1.1" stroke-linejoin="round"/><path d="M31.3 209.39v8M29.7 213.39h3.2M34.56 209.95v8M32.96 213.95h3.2M37.82 210.51v8M36.22 214.51h3.2M41.08 210.62v8M39.48 214.62h3.2M44.33 210.24v8M42.73 214.24h3.2M47.59 209.86v8M45.99 213.86h3.2M50.85 209.7v8M49.25 213.7h3.2M54.11 209.7v8M52.51 213.7h3.2M57.37 209.48v8M55.77 213.48h3.2M60.63 209.1v8M59.03 213.1h3.2M63.89 208.89v8M62.29 212.89h3.2M67.15 209.38v8M65.55 213.38h3.2M70.4 209.87v8M68.8 213.87h3.2M73.66 209.93v8M72.06 213.93h3.2M76.92 209.82v8M75.32 213.82h3.2M80.18 209.72v8M78.58 213.72h3.2M83.44 211.18v8M81.84 215.18h3.2M86.7 212.77v8M85.1 216.77h3.2M89.96 213.89v8M88.36 217.89h3.2M93.21 215v8M91.61 219h3.2M96.47 214.87v8M94.87 218.87h3.2M99.73 214.63v8M98.13 218.63h3.2M102.99 214.24v8M101.39 218.24h3.2M106.25 213.71v8M104.65 217.71h3.2M109.51 213.2v8M107.91 217.2h3.2M112.77 213.31v8M111.17 217.31h3.2M116.02 213.41v8M114.42 217.41h3.2M119.28 213.39v8M117.68 217.39h3.2M122.54 212.5v8M120.94 216.5h3.2M125.8 212.4v8M124.2 216.4h3.2M129.06 212.4v8M127.46 216.4h3.2M132.32 212.6v8M130.72 216.6h3.2M135.58 213.05v8M133.98 217.05h3.2M138.84 213.51v8M137.24 217.51h3.2M142.09 214.32v8M140.49 218.32h3.2M145.35 215.02v8M143.75 219.02h3.2M148.61 213.2v8M147.01 217.2h3.2M151.87 211.56v8M150.27 215.56h3.2M155.13 211.23v8M153.53 215.23h3.2M158.39 210.9v8M156.79 214.9h3.2M161.65 210.41v8M160.05 214.41h3.2M164.9 209.85v8M163.3 213.85h3.2M168.16 209.91v8M166.56 213.91h3.2M171.42 210.2v8M169.82 214.2h3.2M174.68 210.05v8M173.08 214.05h3.2M177.94 208.88v8M176.34 212.88h3.2M181.2 208.19v8M179.6 212.19h3.2M184.46 208.47v8M182.86 212.47h3.2M187.72 209.78v8M186.12 213.78h3.2M190.97 211.2v8M189.37 215.2h3.2M194.23 212.5v8M192.63 216.5h3.2M197.49 212.25v8M195.89 216.25h3.2M200.75 210.16v8M199.15 214.16h3.2M204.01 209.15v8M202.41 213.15h3.2M207.27 208.73v8M205.67 212.73h3.2M210.53 209.5v8M208.93 213.5h3.2M213.78 210.28v8M212.18 214.28h3.2M217.04 209.4v8M215.44 213.4h3.2M220.3 208.21v8M218.7 212.21h3.2M223.56 207.17v8M221.96 211.17h3.2M226.82 206.16v8M225.22 210.16h3.2M230.08 205.86v8M228.48 209.86h3.2M233.34 205.61v8M231.74 209.61h3.2M236.6 206.68v8M235 210.68h3.2M239.85 207.77v8M238.25 211.77h3.2M243.11 209.15v8M241.51 213.15h3.2M246.37 209.7v8M244.77 213.7h3.2M249.63 209.7v8M248.03 213.7h3.2M252.89 209.8v8M251.29 213.8h3.2M256.15 209.95v8M254.55 213.95h3.2M259.41 210.47v8M257.81 214.47h3.2M262.66 211.13v8M261.06 215.13h3.2M265.92 211.72v8M264.32 215.72h3.2M269.18 212.29v8M267.58 216.29h3.2M272.44 212.23v8M270.84 216.23h3.2M275.7 212.03v8M274.1 216.03h3.2M278.96 211.82v8M277.36 215.82h3.2M282.22 211.62v8M280.62 215.62h3.2M285.47 212.34v8M283.87 216.34h3.2M288.73 213.16v8M287.13 217.16h3.2M291.99 212.97v8M290.39 216.97h3.2M295.25 213.22v8M293.65 217.22h3.2M298.51 213.67v8M296.91 217.67h3.2M301.77 213.82v8M300.17 217.82h3.2M305.03 213.16v8M303.43 217.16h3.2M308.29 212.5v8M306.69 216.5h3.2M311.54 212.12v8M309.94 216.12h3.2M314.8 211.79v8M313.2 215.79h3.2M318.06 211.46v8M316.46 215.46h3.2M321.32 211.14v8M319.72 215.14h3.2M324.58 210.81v8M322.98 214.81h3.2M327.84 211.6v8M326.24 215.6h3.2M331.1 212.41v8M329.5 216.41h3.2M334.35 212.82v8M332.75 216.82h3.2M337.61 213.18v8M336.01 217.18h3.2M340.87 212.85v8M339.27 216.85h3.2M344.13 212.52v8M342.53 216.52h3.2M347.39 212.11v8M345.79 216.11h3.2M350.65 211.66v8M349.05 215.66h3.2M353.91 211.25v8M352.31 215.25h3.2M357.17 210.99v8M355.57 214.99h3.2M360.42 211.07v8M358.82 215.07h3.2M363.68 212.16v8M362.08 216.16h3.2M366.94 212.05v8M365.34 216.05h3.2M370.2 211.6v8M368.6 215.6h3.2" stroke="#1a2cff" stroke-width="0.9" opacity="0.75" fill="none"/>
<polyline points="413.4,66.25 416.66,65.48 419.92,64.85 423.18,64.67 426.43,64.49 429.69,64.39 432.95,64.29 436.21,64.25 439.47,64.57 442.73,64.89 445.99,64.99 449.25,65.08 452.5,65.21 455.76,65.35 459.02,65.5 462.28,65.67 465.54,65.7 468.8,65.7 472.06,65.66 475.31,65.53 478.57,65.39 481.83,65.25 485.09,65.12 488.35,64.07 491.61,63.13 494.87,62.51 498.12,62.85 501.38,63.09 504.64,63.04 507.9,62.98 511.16,62.89 514.42,62.82 517.68,63.09 520.94,63.37 524.19,63.21 527.45,62.97 530.71,62.33 533.97,61.68 537.23,61.48 540.49,61.78 543.75,62.66 547,63.33 550.26,63.88 553.52,63.49 556.78,62.82 560.04,62.16 563.3,61.7 566.56,62.36 569.82,62.89 573.07,63.17 576.33,63.45 579.59,63.72 582.85,64 586.11,64 589.37,64 592.63,64.01 595.88,64.11 599.14,64.2 602.4,63.67 605.66,62.76 608.92,61.55 612.18,60.86 615.44,60.6 618.7,60.6 621.95,60.8 625.21,61.25 628.47,61.7 631.73,62.11 634.99,62.49 638.25,62.28 641.51,62.2 644.76,62.2 648.02,62.26 651.28,62.4 654.54,62.5 657.8,62.5 661.06,62.51 664.32,62.65 667.57,62.79 670.83,63.09 674.09,63.42 677.35,63.68 680.61,63.4 683.87,63.13 687.13,63.26 690.39,63.45 693.64,63.3 696.9,62.76 700.16,61.37 703.42,59.93 706.68,58.75 709.94,58.08 713.2,58.16 716.45,58.35 719.71,58.4 722.97,58.4 726.23,58.25 729.49,57.98 732.75,57.83 736.01,57.92 739.27,58.03 742.52,58.22 745.78,58.4 749.04,58.8 752.3,59.2" fill="none" stroke="#262626" stroke-width="1.1" stroke-linejoin="round"/><path d="M413.4 62.75v7M411.8 66.25h3.2M416.66 61.98v7M415.06 65.48h3.2M419.92 61.35v7M418.32 64.85h3.2M423.18 61.17v7M421.58 64.67h3.2M426.43 60.99v7M424.83 64.49h3.2M429.69 60.89v7M428.09 64.39h3.2M432.95 60.79v7M431.35 64.29h3.2M436.21 60.75v7M434.61 64.25h3.2M439.47 61.07v7M437.87 64.57h3.2M442.73 61.39v7M441.13 64.89h3.2M445.99 61.49v7M444.39 64.99h3.2M449.25 61.58v7M447.65 65.08h3.2M452.5 61.71v7M450.9 65.21h3.2M455.76 61.85v7M454.16 65.35h3.2M459.02 62v7M457.42 65.5h3.2M462.28 62.17v7M460.68 65.67h3.2M465.54 62.2v7M463.94 65.7h3.2M468.8 62.2v7M467.2 65.7h3.2M472.06 62.16v7M470.46 65.66h3.2M475.31 62.03v7M473.71 65.53h3.2M478.57 61.89v7M476.97 65.39h3.2M481.83 61.75v7M480.23 65.25h3.2M485.09 61.62v7M483.49 65.12h3.2M488.35 60.57v7M486.75 64.07h3.2M491.61 59.63v7M490.01 63.13h3.2M494.87 59.01v7M493.27 62.51h3.2M498.12 59.35v7M496.52 62.85h3.2M501.38 59.59v7M499.78 63.09h3.2M504.64 59.54v7M503.04 63.04h3.2M507.9 59.48v7M506.3 62.98h3.2M511.16 59.39v7M509.56 62.89h3.2M514.42 59.32v7M512.82 62.82h3.2M517.68 59.59v7M516.08 63.09h3.2M520.94 59.87v7M519.34 63.37h3.2M524.19 59.71v7M522.59 63.21h3.2M527.45 59.47v7M525.85 62.97h3.2M530.71 58.83v7M529.11 62.33h3.2M533.97 58.18v7M532.37 61.68h3.2M537.23 57.98v7M535.63 61.48h3.2M540.49 58.28v7M538.89 61.78h3.2M543.75 59.16v7M542.15 62.66h3.2M547 59.83v7M545.4 63.33h3.2M550.26 60.38v7M548.66 63.88h3.2M553.52 59.99v7M551.92 63.49h3.2M556.78 59.32v7M555.18 62.82h3.2M560.04 58.66v7M558.44 62.16h3.2M563.3 58.2v7M561.7 61.7h3.2M566.56 58.86v7M564.96 62.36h3.2M569.82 59.39v7M568.22 62.89h3.2M573.07 59.67v7M571.47 63.17h3.2M576.33 59.95v7M574.73 63.45h3.2M579.59 60.22v7M577.99 63.72h3.2M582.85 60.5v7M581.25 64h3.2M586.11 60.5v7M584.51 64h3.2M589.37 60.5v7M587.77 64h3.2M592.63 60.51v7M591.03 64.01h3.2M595.88 60.61v7M594.28 64.11h3.2M599.14 60.7v7M597.54 64.2h3.2M602.4 60.17v7M600.8 63.67h3.2M605.66 59.26v7M604.06 62.76h3.2M608.92 58.05v7M607.32 61.55h3.2M612.18 57.36v7M610.58 60.86h3.2M615.44 57.1v7M613.84 60.6h3.2M618.7 57.1v7M617.1 60.6h3.2M621.95 57.3v7M620.35 60.8h3.2M625.21 57.75v7M623.61 61.25h3.2M628.47 58.2v7M626.87 61.7h3.2M631.73 58.61v7M630.13 62.11h3.2M634.99 58.99v7M633.39 62.49h3.2M638.25 58.78v7M636.65 62.28h3.2M641.51 58.7v7M639.91 62.2h3.2M644.76 58.7v7M643.16 62.2h3.2M648.02 58.76v7M646.42 62.26h3.2M651.28 58.9v7M649.68 62.4h3.2M654.54 59v7M652.94 62.5h3.2M657.8 59v7M656.2 62.5h3.2M661.06 59.01v7M659.46 62.51h3.2M664.32 59.15v7M662.72 62.65h3.2M667.57 59.29v7M665.97 62.79h3.2M670.83 59.59v7M669.23 63.09h3.2M674.09 59.92v7M672.49 63.42h3.2M677.35 60.18v7M675.75 63.68h3.2M680.61 59.9v7M679.01 63.4h3.2M683.87 59.63v7M682.27 63.13h3.2M687.13 59.76v7M685.53 63.26h3.2M690.39 59.95v7M688.79 63.45h3.2M693.64 59.8v7M692.04 63.3h3.2M696.9 59.26v7M695.3 62.76h3.2M700.16 57.87v7M698.56 61.37h3.2M703.42 56.43v7M701.82 59.93h3.2M706.68 55.25v7M705.08 58.75h3.2M709.94 54.58v7M708.34 58.08h3.2M713.2 54.66v7M711.6 58.16h3.2M716.45 54.85v7M714.85 58.35h3.2M719.71 54.9v7M718.11 58.4h3.2M722.97 54.9v7M721.37 58.4h3.2M726.23 54.75v7M724.63 58.25h3.2M729.49 54.48v7M727.89 57.98h3.2M732.75 54.33v7M731.15 57.83h3.2M736.01 54.42v7M734.41 57.92h3.2M739.27 54.53v7M737.67 58.03h3.2M742.52 54.72v7M740.92 58.22h3.2M745.78 54.9v7M744.18 58.4h3.2M749.04 55.3v7M747.44 58.8h3.2M752.3 55.7v7M750.7 59.2h3.2" stroke="#262626" stroke-width="0.9" opacity="0.75" fill="none"/>
<polyline points="413.4,63.36 416.66,62.7 419.92,62.15 423.18,61.97 426.43,61.8 429.69,61.8 432.95,61.8 436.21,61.85 439.47,62.17 442.73,62.49 445.99,62.5 449.25,62.5 452.5,62.61 455.76,62.75 459.02,63.01 462.28,63.34 465.54,63.4 468.8,63.4 472.06,63.35 475.31,63.17 478.57,62.99 481.83,62.76 485.09,62.53 488.35,61.59 491.61,60.88 494.87,60.6 498.12,61.12 501.38,61.49 504.64,61.44 507.9,61.35 511.16,61.17 514.42,61.01 517.68,61.2 520.94,61.38 524.19,61.21 527.45,60.97 530.71,60.28 533.97,59.59 537.23,59.32 540.49,59.53 543.75,60.3 547,61 550.26,61.65 553.52,61.29 556.78,60.62 560.04,60.17 563.3,59.9 566.56,60.56 569.82,61.09 573.07,61.37 576.33,61.65 579.59,61.92 582.85,62.2 586.11,62.2 589.37,62.24 592.63,62.52 595.88,62.66 599.14,62.8 602.4,62.6 605.66,61.69 608.92,60.17 612.18,59.68 615.44,59.5 618.7,59.5 621.95,59.64 625.21,59.96 628.47,60.29 631.73,60.65 634.99,61.02 638.25,61.44 641.51,61.43 644.76,61.16 648.02,60.88 651.28,60.6 654.54,60.33 657.8,60.05 661.06,59.82 664.32,60.1 667.57,60.37 670.83,60.99 674.09,61.6 677.35,61.57 680.61,61.16 683.87,60.74 687.13,60.37 690.39,60 693.64,59.67 696.9,59.35 700.16,58.58 703.42,57.4 706.68,55.95 709.94,55.4 713.2,55.46 716.45,55.88 719.71,56.29 722.97,56.61 726.23,56.93 729.49,57.07 732.75,57.16 736.01,57.48 739.27,57.94 742.52,58.24 745.78,58.33 749.04,58.38 752.3,58.3" fill="none" stroke="#1a2cff" stroke-width="1.1" stroke-linejoin="round"/><path d="M413.4 59.86v7M411.8 63.36h3.2M416.66 59.2v7M415.06 62.7h3.2M419.92 58.65v7M418.32 62.15h3.2M423.18 58.47v7M421.58 61.97h3.2M426.43 58.3v7M424.83 61.8h3.2M429.69 58.3v7M428.09 61.8h3.2M432.95 58.3v7M431.35 61.8h3.2M436.21 58.35v7M434.61 61.85h3.2M439.47 58.67v7M437.87 62.17h3.2M442.73 58.99v7M441.13 62.49h3.2M445.99 59v7M444.39 62.5h3.2M449.25 59v7M447.65 62.5h3.2M452.5 59.11v7M450.9 62.61h3.2M455.76 59.25v7M454.16 62.75h3.2M459.02 59.51v7M457.42 63.01h3.2M462.28 59.84v7M460.68 63.34h3.2M465.54 59.9v7M463.94 63.4h3.2M468.8 59.9v7M467.2 63.4h3.2M472.06 59.85v7M470.46 63.35h3.2M475.31 59.67v7M473.71 63.17h3.2M478.57 59.49v7M476.97 62.99h3.2M481.83 59.26v7M480.23 62.76h3.2M485.09 59.03v7M483.49 62.53h3.2M488.35 58.09v7M486.75 61.59h3.2M491.61 57.38v7M490.01 60.88h3.2M494.87 57.1v7M493.27 60.6h3.2M498.12 57.62v7M496.52 61.12h3.2M501.38 57.99v7M499.78 61.49h3.2M504.64 57.94v7M503.04 61.44h3.2M507.9 57.85v7M506.3 61.35h3.2M511.16 57.67v7M509.56 61.17h3.2M514.42 57.51v7M512.82 61.01h3.2M517.68 57.7v7M516.08 61.2h3.2M520.94 57.88v7M519.34 61.38h3.2M524.19 57.71v7M522.59 61.21h3.2M527.45 57.47v7M525.85 60.97h3.2M530.71 56.78v7M529.11 60.28h3.2M533.97 56.09v7M532.37 59.59h3.2M537.23 55.82v7M535.63 59.32h3.2M540.49 56.03v7M538.89 59.53h3.2M543.75 56.8v7M542.15 60.3h3.2M547 57.5v7M545.4 61h3.2M550.26 58.15v7M548.66 61.65h3.2M553.52 57.79v7M551.92 61.29h3.2M556.78 57.12v7M555.18 60.62h3.2M560.04 56.67v7M558.44 60.17h3.2M563.3 56.4v7M561.7 59.9h3.2M566.56 57.06v7M564.96 60.56h3.2M569.82 57.59v7M568.22 61.09h3.2M573.07 57.87v7M571.47 61.37h3.2M576.33 58.15v7M574.73 61.65h3.2M579.59 58.42v7M577.99 61.92h3.2M582.85 58.7v7M581.25 62.2h3.2M586.11 58.7v7M584.51 62.2h3.2M589.37 58.74v7M587.77 62.24h3.2M592.63 59.02v7M591.03 62.52h3.2M595.88 59.16v7M594.28 62.66h3.2M599.14 59.3v7M597.54 62.8h3.2M602.4 59.1v7M600.8 62.6h3.2M605.66 58.19v7M604.06 61.69h3.2M608.92 56.67v7M607.32 60.17h3.2M612.18 56.18v7M610.58 59.68h3.2M615.44 56v7M613.84 59.5h3.2M618.7 56v7M617.1 59.5h3.2M621.95 56.14v7M620.35 59.64h3.2M625.21 56.46v7M623.61 59.96h3.2M628.47 56.79v7M626.87 60.29h3.2M631.73 57.15v7M630.13 60.65h3.2M634.99 57.52v7M633.39 61.02h3.2M638.25 57.94v7M636.65 61.44h3.2M641.51 57.93v7M639.91 61.43h3.2M644.76 57.66v7M643.16 61.16h3.2M648.02 57.38v7M646.42 60.88h3.2M651.28 57.1v7M649.68 60.6h3.2M654.54 56.83v7M652.94 60.33h3.2M657.8 56.55v7M656.2 60.05h3.2M661.06 56.32v7M659.46 59.82h3.2M664.32 56.6v7M662.72 60.1h3.2M667.57 56.87v7M665.97 60.37h3.2M670.83 57.49v7M669.23 60.99h3.2M674.09 58.1v7M672.49 61.6h3.2M677.35 58.07v7M675.75 61.57h3.2M680.61 57.66v7M679.01 61.16h3.2M683.87 57.24v7M682.27 60.74h3.2M687.13 56.87v7M685.53 60.37h3.2M690.39 56.5v7M688.79 60h3.2M693.64 56.17v7M692.04 59.67h3.2M696.9 55.85v7M695.3 59.35h3.2M700.16 55.08v7M698.56 58.58h3.2M703.42 53.9v7M701.82 57.4h3.2M706.68 52.45v7M705.08 55.95h3.2M709.94 51.9v7M708.34 55.4h3.2M713.2 51.96v7M711.6 55.46h3.2M716.45 52.38v7M714.85 55.88h3.2M719.71 52.79v7M718.11 56.29h3.2M722.97 53.11v7M721.37 56.61h3.2M726.23 53.43v7M724.63 56.93h3.2M729.49 53.57v7M727.89 57.07h3.2M732.75 53.66v7M731.15 57.16h3.2M736.01 53.98v7M734.41 57.48h3.2M739.27 54.44v7M737.67 57.94h3.2M742.52 54.74v7M740.92 58.24h3.2M745.78 54.83v7M744.18 58.33h3.2M749.04 54.88v7M747.44 58.38h3.2M752.3 54.8v7M750.7 58.3h3.2" stroke="#1a2cff" stroke-width="0.9" opacity="0.75" fill="none"/>
<polyline points="413.4,203.43 416.66,203.87 419.92,204.34 423.18,204.89 426.43,205.43 429.69,205.84 432.95,206.26 436.21,207.17 439.47,208.12 442.73,208.45 445.99,208.63 449.25,208.36 452.5,208.07 455.76,207.51 459.02,206.96 462.28,206.72 465.54,206.78 468.8,207.2 472.06,207.64 475.31,208.19 478.57,208.41 481.83,208.19 485.09,207.7 488.35,207.03 491.61,206.77 494.87,206.61 498.12,206.6 501.38,206.88 504.64,207.92 507.9,208.77 511.16,209.04 514.42,209.3 517.68,209.3 520.94,209.3 524.19,208.97 527.45,208.61 530.71,208.37 533.97,208.19 537.23,208.1 540.49,208.1 543.75,208.1 547,208.1 550.26,208.1 553.52,208.1 556.78,208.1 560.04,208.1 563.3,208.1 566.56,207.81 569.82,207.44 573.07,207.13 576.33,207.1 579.59,208.32 582.85,209.27 586.11,209.9 589.37,209.86 592.63,209.62 595.88,209.76 599.14,209.9 602.4,210.31 605.66,210.72 608.92,210.98 612.18,211.21 615.44,211.24 618.7,211.15 621.95,211.04 625.21,210.9 628.47,210.7 631.73,210.29 634.99,209.87 638.25,209.32 641.51,208.77 644.76,208.3 648.02,207.84 651.28,207.51 654.54,207.44 657.8,207.99 661.06,208.55 664.32,209.19 667.57,209.84 670.83,210.34 674.09,210.8 677.35,210.75 680.61,210.13 683.87,209.69 687.13,209.37 690.39,209.65 693.64,210.09 696.9,210.1 700.16,210.1 703.42,210.1 706.68,210.1 709.94,210.1 713.2,210.1 716.45,210.18 719.71,210.37 722.97,210.54 726.23,210.67 729.49,210.74 732.75,210.09 736.01,209.5" fill="none" stroke="#262626" stroke-width="1.1" stroke-linejoin="round"/><polyline points="736.01,209.5 739.27,209.12 742.52,208.95 745.78,209.07 749.04,209.18 752.3,209.3" fill="none" stroke="#262626" stroke-width="0.9" stroke-linejoin="round"/><path d="M413.4 199.43v8M411.8 203.43h3.2M416.66 199.87v8M415.06 203.87h3.2M419.92 200.34v8M418.32 204.34h3.2M423.18 200.89v8M421.58 204.89h3.2M426.43 201.43v8M424.83 205.43h3.2M429.69 201.84v8M428.09 205.84h3.2M432.95 202.26v8M431.35 206.26h3.2M436.21 203.17v8M434.61 207.17h3.2M439.47 204.12v8M437.87 208.12h3.2M442.73 204.45v8M441.13 208.45h3.2M445.99 204.63v8M444.39 208.63h3.2M449.25 204.36v8M447.65 208.36h3.2M452.5 204.07v8M450.9 208.07h3.2M455.76 203.51v8M454.16 207.51h3.2M459.02 202.96v8M457.42 206.96h3.2M462.28 202.72v8M460.68 206.72h3.2M465.54 202.78v8M463.94 206.78h3.2M468.8 203.2v8M467.2 207.2h3.2M472.06 203.64v8M470.46 207.64h3.2M475.31 204.19v8M473.71 208.19h3.2M478.57 204.41v8M476.97 208.41h3.2M481.83 204.19v8M480.23 208.19h3.2M485.09 203.7v8M483.49 207.7h3.2M488.35 203.03v8M486.75 207.03h3.2M491.61 202.77v8M490.01 206.77h3.2M494.87 202.61v8M493.27 206.61h3.2M498.12 202.6v8M496.52 206.6h3.2M501.38 202.88v8M499.78 206.88h3.2M504.64 203.92v8M503.04 207.92h3.2M507.9 204.77v8M506.3 208.77h3.2M511.16 205.04v8M509.56 209.04h3.2M514.42 205.3v8M512.82 209.3h3.2M517.68 205.3v8M516.08 209.3h3.2M520.94 205.3v8M519.34 209.3h3.2M524.19 204.97v8M522.59 208.97h3.2M527.45 204.61v8M525.85 208.61h3.2M530.71 204.37v8M529.11 208.37h3.2M533.97 204.19v8M532.37 208.19h3.2M537.23 204.1v8M535.63 208.1h3.2M540.49 204.1v8M538.89 208.1h3.2M543.75 204.1v8M542.15 208.1h3.2M547 204.1v8M545.4 208.1h3.2M550.26 204.1v8M548.66 208.1h3.2M553.52 204.1v8M551.92 208.1h3.2M556.78 204.1v8M555.18 208.1h3.2M560.04 204.1v8M558.44 208.1h3.2M563.3 204.1v8M561.7 208.1h3.2M566.56 203.81v8M564.96 207.81h3.2M569.82 203.44v8M568.22 207.44h3.2M573.07 203.13v8M571.47 207.13h3.2M576.33 203.1v8M574.73 207.1h3.2M579.59 204.32v8M577.99 208.32h3.2M582.85 205.27v8M581.25 209.27h3.2M586.11 205.9v8M584.51 209.9h3.2M589.37 205.86v8M587.77 209.86h3.2M592.63 205.62v8M591.03 209.62h3.2M595.88 205.76v8M594.28 209.76h3.2M599.14 205.9v8M597.54 209.9h3.2M602.4 206.31v8M600.8 210.31h3.2M605.66 206.72v8M604.06 210.72h3.2M608.92 206.98v8M607.32 210.98h3.2M612.18 207.21v8M610.58 211.21h3.2M615.44 207.24v8M613.84 211.24h3.2M618.7 207.15v8M617.1 211.15h3.2M621.95 207.04v8M620.35 211.04h3.2M625.21 206.9v8M623.61 210.9h3.2M628.47 206.7v8M626.87 210.7h3.2M631.73 206.29v8M630.13 210.29h3.2M634.99 205.87v8M633.39 209.87h3.2M638.25 205.32v8M636.65 209.32h3.2M641.51 204.77v8M639.91 208.77h3.2M644.76 204.3v8M643.16 208.3h3.2M648.02 203.84v8M646.42 207.84h3.2M651.28 203.51v8M649.68 207.51h3.2M654.54 203.44v8M652.94 207.44h3.2M657.8 203.99v8M656.2 207.99h3.2M661.06 204.55v8M659.46 208.55h3.2M664.32 205.19v8M662.72 209.19h3.2M667.57 205.84v8M665.97 209.84h3.2M670.83 206.34v8M669.23 210.34h3.2M674.09 206.8v8M672.49 210.8h3.2M677.35 206.75v8M675.75 210.75h3.2M680.61 206.13v8M679.01 210.13h3.2M683.87 205.69v8M682.27 209.69h3.2M687.13 205.37v8M685.53 209.37h3.2M690.39 205.65v8M688.79 209.65h3.2M693.64 206.09v8M692.04 210.09h3.2M696.9 206.1v8M695.3 210.1h3.2M700.16 206.1v8M698.56 210.1h3.2M703.42 206.1v8M701.82 210.1h3.2M706.68 206.1v8M705.08 210.1h3.2M709.94 206.1v8M708.34 210.1h3.2M713.2 206.1v8M711.6 210.1h3.2M716.45 206.18v8M714.85 210.18h3.2M719.71 206.37v8M718.11 210.37h3.2M722.97 206.54v8M721.37 210.54h3.2M726.23 206.67v8M724.63 210.67h3.2M729.49 206.74v8M727.89 210.74h3.2M732.75 206.09v8M731.15 210.09h3.2M736.01 205.5v8M734.41 209.5h3.2" stroke="#262626" stroke-width="0.9" opacity="0.75" fill="none"/>
<polyline points="413.4,200.42 416.66,200.75 419.92,201.14 423.18,201.69 426.43,202.24 429.69,202.79 432.95,203.34 436.21,204.37 439.47,205.42 442.73,205.81 445.99,206.06 449.25,205.87 452.5,205.67 455.76,205.11 459.02,204.56 462.28,204.19 465.54,204.18 468.8,204.6 472.06,205.01 475.31,205.45 478.57,205.7 481.83,205.7 485.09,205.19 488.35,204.37 491.61,204.11 494.87,204 498.12,204.28 501.38,204.74 504.64,205.63 507.9,206.37 511.16,206.64 514.42,206.9 517.68,206.9 520.94,206.9 524.19,206.66 527.45,206.38 530.71,206.23 533.97,206.14 537.23,206 540.49,205.82 543.75,205.7 547,205.7 550.26,205.7 553.52,205.7 556.78,205.7 560.04,205.7 563.3,205.7 566.56,205.41 569.82,205.04 573.07,204.73 576.33,204.7 579.59,205.92 582.85,206.59 586.11,206.83 589.37,206.56 592.63,206.32 595.88,206.46 599.14,206.6 602.4,207.01 605.66,207.42 608.92,207.72 612.18,208 615.44,207.99 618.7,207.8 621.95,207.66 625.21,207.57 628.47,207.4 631.73,206.99 634.99,206.56 638.25,205.87 641.51,205.18 644.76,204.86 648.02,204.58 651.28,204.35 654.54,204.31 657.8,204.72 661.06,205.15 664.32,205.84 667.57,206.53 670.83,207.04 674.09,207.5 677.35,207.44 680.61,206.6 683.87,205.99 687.13,205.5 690.39,205.93 693.64,206.59 696.9,206.6 700.16,206.6 703.42,206.6 706.68,206.6 709.94,206.6 713.2,206.6 716.45,206.66 719.71,206.8 722.97,206.95 726.23,207.13 729.49,207.24 732.75,206.55 736.01,206.39 739.27,206.26 742.52,206.14 745.78,206.05 749.04,205.97 752.3,205.9" fill="none" stroke="#1a2cff" stroke-width="1.1" stroke-linejoin="round"/><path d="M413.4 196.92v7M411.8 200.42h3.2M416.66 197.25v7M415.06 200.75h3.2M419.92 197.64v7M418.32 201.14h3.2M423.18 198.19v7M421.58 201.69h3.2M426.43 198.74v7M424.83 202.24h3.2M429.69 199.29v7M428.09 202.79h3.2M432.95 199.84v7M431.35 203.34h3.2M436.21 200.87v7M434.61 204.37h3.2M439.47 201.92v7M437.87 205.42h3.2M442.73 202.31v7M441.13 205.81h3.2M445.99 202.56v7M444.39 206.06h3.2M449.25 202.37v7M447.65 205.87h3.2M452.5 202.17v7M450.9 205.67h3.2M455.76 201.61v7M454.16 205.11h3.2M459.02 201.06v7M457.42 204.56h3.2M462.28 200.69v7M460.68 204.19h3.2M465.54 200.68v7M463.94 204.18h3.2M468.8 201.1v7M467.2 204.6h3.2M472.06 201.51v7M470.46 205.01h3.2M475.31 201.95v7M473.71 205.45h3.2M478.57 202.2v7M476.97 205.7h3.2M481.83 202.2v7M480.23 205.7h3.2M485.09 201.69v7M483.49 205.19h3.2M488.35 200.87v7M486.75 204.37h3.2M491.61 200.61v7M490.01 204.11h3.2M494.87 200.5v7M493.27 204h3.2M498.12 200.78v7M496.52 204.28h3.2M501.38 201.24v7M499.78 204.74h3.2M504.64 202.13v7M503.04 205.63h3.2M507.9 202.87v7M506.3 206.37h3.2M511.16 203.14v7M509.56 206.64h3.2M514.42 203.4v7M512.82 206.9h3.2M517.68 203.4v7M516.08 206.9h3.2M520.94 203.4v7M519.34 206.9h3.2M524.19 203.16v7M522.59 206.66h3.2M527.45 202.88v7M525.85 206.38h3.2M530.71 202.73v7M529.11 206.23h3.2M533.97 202.64v7M532.37 206.14h3.2M537.23 202.5v7M535.63 206h3.2M540.49 202.32v7M538.89 205.82h3.2M543.75 202.2v7M542.15 205.7h3.2M547 202.2v7M545.4 205.7h3.2M550.26 202.2v7M548.66 205.7h3.2M553.52 202.2v7M551.92 205.7h3.2M556.78 202.2v7M555.18 205.7h3.2M560.04 202.2v7M558.44 205.7h3.2M563.3 202.2v7M561.7 205.7h3.2M566.56 201.91v7M564.96 205.41h3.2M569.82 201.54v7M568.22 205.04h3.2M573.07 201.23v7M571.47 204.73h3.2M576.33 201.2v7M574.73 204.7h3.2M579.59 202.42v7M577.99 205.92h3.2M582.85 203.09v7M581.25 206.59h3.2M586.11 203.33v7M584.51 206.83h3.2M589.37 203.06v7M587.77 206.56h3.2M592.63 202.82v7M591.03 206.32h3.2M595.88 202.96v7M594.28 206.46h3.2M599.14 203.1v7M597.54 206.6h3.2M602.4 203.51v7M600.8 207.01h3.2M605.66 203.92v7M604.06 207.42h3.2M608.92 204.22v7M607.32 207.72h3.2M612.18 204.5v7M610.58 208h3.2M615.44 204.49v7M613.84 207.99h3.2M618.7 204.3v7M617.1 207.8h3.2M621.95 204.16v7M620.35 207.66h3.2M625.21 204.07v7M623.61 207.57h3.2M628.47 203.9v7M626.87 207.4h3.2M631.73 203.49v7M630.13 206.99h3.2M634.99 203.06v7M633.39 206.56h3.2M638.25 202.37v7M636.65 205.87h3.2M641.51 201.68v7M639.91 205.18h3.2M644.76 201.36v7M643.16 204.86h3.2M648.02 201.08v7M646.42 204.58h3.2M651.28 200.85v7M649.68 204.35h3.2M654.54 200.81v7M652.94 204.31h3.2M657.8 201.22v7M656.2 204.72h3.2M661.06 201.65v7M659.46 205.15h3.2M664.32 202.34v7M662.72 205.84h3.2M667.57 203.03v7M665.97 206.53h3.2M670.83 203.54v7M669.23 207.04h3.2M674.09 204v7M672.49 207.5h3.2M677.35 203.94v7M675.75 207.44h3.2M680.61 203.1v7M679.01 206.6h3.2M683.87 202.49v7M682.27 205.99h3.2M687.13 202v7M685.53 205.5h3.2M690.39 202.43v7M688.79 205.93h3.2M693.64 203.09v7M692.04 206.59h3.2M696.9 203.1v7M695.3 206.6h3.2M700.16 203.1v7M698.56 206.6h3.2M703.42 203.1v7M701.82 206.6h3.2M706.68 203.1v7M705.08 206.6h3.2M709.94 203.1v7M708.34 206.6h3.2M713.2 203.1v7M711.6 206.6h3.2M716.45 203.16v7M714.85 206.66h3.2M719.71 203.3v7M718.11 206.8h3.2M722.97 203.45v7M721.37 206.95h3.2M726.23 203.63v7M724.63 207.13h3.2M729.49 203.74v7M727.89 207.24h3.2M732.75 203.05v7M731.15 206.55h3.2M736.01 202.89v7M734.41 206.39h3.2M739.27 202.76v7M737.67 206.26h3.2M742.52 202.64v7M740.92 206.14h3.2M745.78 202.55v7M744.18 206.05h3.2M749.04 202.47v7M747.44 205.97h3.2M752.3 202.4v7M750.7 205.9h3.2" stroke="#1a2cff" stroke-width="0.9" opacity="0.75" fill="none"/>
<g transform="translate(151.8 7.7) scale(1.12 1)"><text x="0" y="0" font-size="11.8" text-anchor="start" font-weight="normal" fill="#000" stroke="#000" stroke-width="0.13" textLength="47.5" lengthAdjust="spacing" font-family="Liberation Serif" >In Umbra</text></g>
<g transform="translate(534.4 7.7) scale(1.12 1)"><text x="0" y="0" font-size="11.8" text-anchor="start" font-weight="normal" fill="#000" stroke="#000" stroke-width="0.13" textLength="65.36" lengthAdjust="spacing" font-family="Liberation Serif" >In Penumbra</text></g>
<g transform="translate(7.8 116.2) rotate(-90)"><text font-size="9.2" font-family="Liberation Sans" textLength="72" lengthAdjust="spacing" stroke="#000" stroke-width="0.3">Mean Intensity</text></g>
<g transform="translate(7.3 253.6) rotate(-90)"><text font-size="9.2" font-family="Liberation Sans" textLength="70.5" lengthAdjust="spacing" stroke="#000" stroke-width="0.3">Mean Intensity</text></g>
<g transform="translate(390 114.8) rotate(-90)"><text font-size="9.2" font-family="Liberation Sans" textLength="70.3" lengthAdjust="spacing" stroke="#000" stroke-width="0.3">Mean Intensity</text></g>
<g transform="translate(390 253.5) rotate(-90)"><text font-size="9.2" font-family="Liberation Sans" textLength="70.2" lengthAdjust="spacing" stroke="#000" stroke-width="0.3">Mean Intensity</text></g>
<text x="28.2" y="17.25" font-size="10" text-anchor="end" font-weight="normal" fill="#000" stroke="#000" stroke-width="0.2" textLength="13.8" lengthAdjust="spacingAndGlyphs" font-family="Liberation Sans" >0.6</text>
<text x="28.2" y="48.35" font-size="10" text-anchor="end" font-weight="normal" fill="#000" stroke="#000" stroke-width="0.2" textLength="13.8" lengthAdjust="spacingAndGlyphs" font-family="Liberation Sans" >0.5</text>
<text x="28.2" y="82.35" font-size="10" text-anchor="end" font-weight="normal" fill="#000" stroke="#000" stroke-width="0.2" textLength="13.8" lengthAdjust="spacingAndGlyphs" font-family="Liberation Sans" >0.4</text>
<text x="28.2" y="116.05" font-size="10" text-anchor="end" font-weight="normal" fill="#000" stroke="#000" stroke-width="0.2" textLength="13.8" lengthAdjust="spacingAndGlyphs" font-family="Liberation Sans" >0.3</text>
<text x="28.2" y="146.85" font-size="10" text-anchor="end" font-weight="normal" fill="#000" stroke="#000" stroke-width="0.2" textLength="13.8" lengthAdjust="spacingAndGlyphs" font-family="Liberation Sans" >0.2</text>
<text x="28.2" y="156.05" font-size="10" text-anchor="end" font-weight="normal" fill="#000" stroke="#000" stroke-width="0.2" textLength="13.8" lengthAdjust="spacingAndGlyphs" font-family="Liberation Sans" >0.5</text>
<text x="28.2" y="198.65" font-size="10" text-anchor="end" font-weight="normal" fill="#000" stroke="#000" stroke-width="0.2" textLength="13.8" lengthAdjust="spacingAndGlyphs" font-family="Liberation Sans" >0.4</text>
<text x="28.2" y="243.95" font-size="10" text-anchor="end" font-weight="normal" fill="#000" stroke="#000" stroke-width="0.2" textLength="13.8" lengthAdjust="spacingAndGlyphs" font-family="Liberation Sans" >0.3</text>
<text x="28.2" y="286.05" font-size="10" text-anchor="end" font-weight="normal" fill="#000" stroke="#000" stroke-width="0.2" textLength="13.8" lengthAdjust="spacingAndGlyphs" font-family="Liberation Sans" >0.2</text>
<text x="410.7" y="60.15" font-size="10" text-anchor="end" font-weight="normal" fill="#000" stroke="#000" stroke-width="0.2" textLength="13.8" lengthAdjust="spacingAndGlyphs" font-family="Liberation Sans" >0.8</text>
<text x="410.7" y="105.35" font-size="10" text-anchor="end" font-weight="normal" fill="#000" stroke="#000" stroke-width="0.2" textLength="13.8" lengthAdjust="spacingAndGlyphs" font-family="Liberation Sans" >0.7</text>
<text x="410.7" y="147.25" font-size="10" text-anchor="end" font-weight="normal" fill="#000" stroke="#000" stroke-width="0.2" textLength="13.8" lengthAdjust="spacingAndGlyphs" font-family="Liberation Sans" >0.6</text>
<text x="410.7" y="198.95" font-size="10" text-anchor="end" font-weight="normal" fill="#000" stroke="#000" stroke-width="0.2" textLength="13.8" lengthAdjust="spacingAndGlyphs" font-family="Liberation Sans" >0.8</text>
<text x="410.2" y="243.75" font-size="10" text-anchor="end" font-weight="normal" fill="#000" stroke="#000" stroke-width="0.2" textLength="13.8" lengthAdjust="spacingAndGlyphs" font-family="Liberation Sans" >0.7</text>
<text x="410.2" y="285.85" font-size="10" text-anchor="end" font-weight="normal" fill="#000" stroke="#000" stroke-width="0.2" textLength="13.8" lengthAdjust="spacingAndGlyphs" font-family="Liberation Sans" >0.6</text>
<text x="31.3" y="299.9" font-size="9.3" text-anchor="middle" font-weight="normal" fill="#000" stroke="#000" stroke-width="0.35" textLength="5.4" lengthAdjust="spacingAndGlyphs" font-family="Liberation Sans" >0</text>
<text x="57.37" y="299.9" font-size="9.3" text-anchor="middle" font-weight="normal" fill="#000" stroke="#000" stroke-width="0.35" textLength="5.4" lengthAdjust="spacingAndGlyphs" font-family="Liberation Sans" >8</text>
<text x="83.44" y="299.9" font-size="9.3" text-anchor="middle" font-weight="normal" fill="#000" stroke="#000" stroke-width="0.35" textLength="10.6" lengthAdjust="spacingAndGlyphs" font-family="Liberation Sans" >16</text>
<text x="109.51" y="299.9" font-size="9.3" text-anchor="middle" font-weight="normal" fill="#000" stroke="#000" stroke-width="0.35" textLength="10.6" lengthAdjust="spacingAndGlyphs" font-family="Liberation Sans" >24</text>
<text x="135.58" y="299.9" font-size="9.3" text-anchor="middle" font-weight="normal" fill="#000" stroke="#000" stroke-width="0.35" textLength="10.6" lengthAdjust="spacingAndGlyphs" font-family="Liberation Sans" >32</text>
<text x="161.65" y="299.9" font-size="9.3" text-anchor="middle" font-weight="normal" fill="#000" stroke="#000" stroke-width="0.35" textLength="10.6" lengthAdjust="spacingAndGlyphs" font-family="Liberation Sans" >40</text>
<text x="187.72" y="299.9" font-size="9.3" text-anchor="middle" font-weight="normal" fill="#000" stroke="#000" stroke-width="0.35" textLength="10.6" lengthAdjust="spacingAndGlyphs" font-family="Liberation Sans" >48</text>
<text x="213.78" y="299.9" font-size="9.3" text-anchor="middle" font-weight="normal" fill="#000" stroke="#000" stroke-width="0.35" textLength="10.6" lengthAdjust="spacingAndGlyphs" font-family="Liberation Sans" >56</text>
<text x="239.85" y="299.9" font-size="9.3" text-anchor="middle" font-weight="normal" fill="#000" stroke="#000" stroke-width="0.35" textLength="10.6" lengthAdjust="spacingAndGlyphs" font-family="Liberation Sans" >64</text>
<text x="265.92" y="299.9" font-size="9.3" text-anchor="middle" font-weight="normal" fill="#000" stroke="#000" stroke-width="0.35" textLength="10.6" lengthAdjust="spacingAndGlyphs" font-family="Liberation Sans" >72</text>
<text x="291.99" y="299.9" font-size="9.3" text-anchor="middle" font-weight="normal" fill="#000" stroke="#000" stroke-width="0.35" textLength="10.6" lengthAdjust="spacingAndGlyphs" font-family="Liberation Sans" >80</text>
<text x="318.06" y="299.9" font-size="9.3" text-anchor="middle" font-weight="normal" fill="#000" stroke="#000" stroke-width="0.35" textLength="10.6" lengthAdjust="spacingAndGlyphs" font-family="Liberation Sans" >88</text>
<text x="344.13" y="299.9" font-size="9.3" text-anchor="middle" font-weight="normal" fill="#000" stroke="#000" stroke-width="0.35" textLength="10.6" lengthAdjust="spacingAndGlyphs" font-family="Liberation Sans" >96</text>
<text x="370.2" y="299.9" font-size="9.3" text-anchor="middle" font-weight="normal" fill="#000" stroke="#000" stroke-width="0.35" textLength="15.8" lengthAdjust="spacingAndGlyphs" font-family="Liberation Sans" >104</text>
<text x="413.4" y="299.9" font-size="9.3" text-anchor="middle" font-weight="normal" fill="#000" stroke="#000" stroke-width="0.35" textLength="5.4" lengthAdjust="spacingAndGlyphs" font-family="Liberation Sans" >0</text>
<text x="439.47" y="299.9" font-size="9.3" text-anchor="middle" font-weight="normal" fill="#000" stroke="#000" stroke-width="0.35" textLength="5.4" lengthAdjust="spacingAndGlyphs" font-family="Liberation Sans" >8</text>
<text x="465.54" y="299.9" font-size="9.3" text-anchor="middle" font-weight="normal" fill="#000" stroke="#000" stroke-width="0.35" textLength="10.6" lengthAdjust="spacingAndGlyphs" font-family="Liberation Sans" >16</text>
<text x="491.61" y="299.9" font-size="9.3" text-anchor="middle" font-weight="normal" fill="#000" stroke="#000" stroke-width="0.35" textLength="10.6" lengthAdjust="spacingAndGlyphs" font-family="Liberation Sans" >24</text>
<text x="517.68" y="299.9" font-size="9.3" text-anchor="middle" font-weight="normal" fill="#000" stroke="#000" stroke-width="0.35" textLength="10.6" lengthAdjust="spacingAndGlyphs" font-family="Liberation Sans" >32</text>
<text x="543.75" y="299.9" font-size="9.3" text-anchor="middle" font-weight="normal" fill="#000" stroke="#000" stroke-width="0.35" textLength="10.6" lengthAdjust="spacingAndGlyphs" font-family="Liberation Sans" >40</text>
<text x="569.82" y="299.9" font-size="9.3" text-anchor="middle" font-weight="normal" fill="#000" stroke="#000" stroke-width="0.35" textLength="10.6" lengthAdjust="spacingAndGlyphs" font-family="Liberation Sans" >48</text>
<text x="595.88" y="299.9" font-size="9.3" text-anchor="middle" font-weight="normal" fill="#000" stroke="#000" stroke-width="0.35" textLength="10.6" lengthAdjust="spacingAndGlyphs" font-family="Liberation Sans" >56</text>
<text x="621.95" y="299.9" font-size="9.3" text-anchor="middle" font-weight="normal" fill="#000" stroke="#000" stroke-width="0.35" textLength="10.6" lengthAdjust="spacingAndGlyphs" font-family="Liberation Sans" >64</text>
<text x="648.02" y="299.9" font-size="9.3" text-anchor="middle" font-weight="normal" fill="#000" stroke="#000" stroke-width="0.35" textLength="10.6" lengthAdjust="spacingAndGlyphs" font-family="Liberation Sans" >72</text>
<text x="674.09" y="299.9" font-size="9.3" text-anchor="middle" font-weight="normal" fill="#000" stroke="#000" stroke-width="0.35" textLength="10.6" lengthAdjust="spacingAndGlyphs" font-family="Liberation Sans" >80</text>
<text x="700.16" y="299.9" font-size="9.3" text-anchor="middle" font-weight="normal" fill="#000" stroke="#000" stroke-width="0.35" textLength="10.6" lengthAdjust="spacingAndGlyphs" font-family="Liberation Sans" >88</text>
<text x="726.23" y="299.9" font-size="9.3" text-anchor="middle" font-weight="normal" fill="#000" stroke="#000" stroke-width="0.35" textLength="10.6" lengthAdjust="spacingAndGlyphs" font-family="Liberation Sans" >96</text>
<text x="752.3" y="299.9" font-size="9.3" text-anchor="middle" font-weight="normal" fill="#000" stroke="#000" stroke-width="0.35" textLength="15.8" lengthAdjust="spacingAndGlyphs" font-family="Liberation Sans" >104</text>
<text x="337.6" y="27.6" font-size="11.6" stroke="#000" stroke-width="0.25">(</text><g transform="translate(345.3 27.6) scale(1.15 1)"><text x="0" y="0" font-size="10.6" text-anchor="middle" stroke="#000" stroke-width="0.25">a</text></g><text x="352.3" y="27.6" font-size="10.6" text-anchor="middle" stroke="#000" stroke-width="0.25">1</text><text x="355.7" y="27.6" font-size="11.6" stroke="#000" stroke-width="0.25">)</text>
<text x="337.7" y="166.5" font-size="11.6" stroke="#000" stroke-width="0.25">(</text><g transform="translate(345.4 166.5) scale(1.15 1)"><text x="0" y="0" font-size="10.6" text-anchor="middle" stroke="#000" stroke-width="0.25">b</text></g><text x="352.4" y="166.5" font-size="10.6" text-anchor="middle" stroke="#000" stroke-width="0.25">1</text><text x="355.8" y="166.5" font-size="11.6" stroke="#000" stroke-width="0.25">)</text>
<text x="720.5" y="27.6" font-size="11.6" stroke="#000" stroke-width="0.25">(</text><g transform="translate(728.2 27.6) scale(1.15 1)"><text x="0" y="0" font-size="10.6" text-anchor="middle" stroke="#000" stroke-width="0.25">a</text></g><text x="734.3" y="27.6" font-size="10.6" text-anchor="middle" stroke="#000" stroke-width="0.25">2</text><text x="738.6" y="27.6" font-size="11.6" stroke="#000" stroke-width="0.25">)</text>
<text x="720.5" y="166.5" font-size="11.6" stroke="#000" stroke-width="0.25">(</text><g transform="translate(728.2 166.5) scale(1.15 1)"><text x="0" y="0" font-size="10.6" text-anchor="middle" stroke="#000" stroke-width="0.25">b</text></g><text x="734.3" y="166.5" font-size="10.6" text-anchor="middle" stroke="#000" stroke-width="0.25">2</text><text x="738.6" y="166.5" font-size="11.6" stroke="#000" stroke-width="0.25">)</text>
<text x="40.4" y="23.9" font-size="11.8" text-anchor="start" font-weight="normal" fill="#000" stroke="#000" stroke-width="0.25" textLength="31.3" lengthAdjust="spacing" font-family="Liberation Serif" >12662</text>
<text x="40.4" y="162.9" font-size="11.8" text-anchor="start" font-weight="normal" fill="#000" stroke="#000" stroke-width="0.25" textLength="31.5" lengthAdjust="spacing" font-family="Liberation Serif" >12600</text>
<path d="M43.9 33.5H67.9M47.5 30.2v6.6M55.6 30.2v6.6M63.9 30.2v6.6" stroke="#1a2cff" stroke-width="0.9" fill="none" opacity="0.75"/>
<path d="M43.9 43.5H67.9M47.5 40.2v6.6M55.6 40.2v6.6M63.9 40.2v6.6" stroke="#262626" stroke-width="0.9" fill="none" opacity="0.75"/>
<text x="67.6" y="35.8" font-size="9.6" font-family="Liberation Mono" font-weight="bold" fill="#1a2cff" stroke="#1a2cff" stroke-width="0.25" textLength="62.2" lengthAdjust="spacingAndGlyphs">Original data</text>
<text x="67.5" y="46.8" font-size="9.6" font-family="Liberation Mono" font-weight="normal" fill="#000" stroke="#000" stroke-width="0.4" textLength="84.2" lengthAdjust="spacingAndGlyphs">Deconvolved data</text>
<g transform="translate(155.2 310.1) scale(1.08 1)"><text x="0" y="0" font-size="9.8" text-anchor="start" font-weight="normal" fill="#000" stroke="#000" stroke-width="0.28" textLength="22.59" lengthAdjust="spacing" font-family="Liberation Serif" >Time:</text></g><text x="185.3" y="310.1" font-size="9.8" text-anchor="start" font-weight="normal" fill="#000" stroke="#000" stroke-width="0.25" font-family="Liberation Serif" >t</text><path d="M189.6 307.3h5.2" stroke="#222" stroke-width="0.9"/><text x="196.8" y="310.1" font-size="9.8" text-anchor="start" font-weight="normal" fill="#000" stroke="#000" stroke-width="0.25" font-family="Liberation Serif" >t</text><text x="200.7" y="314.5" font-size="8.8" text-anchor="start" font-weight="normal" fill="#000" stroke="#000" stroke-width="0.25" font-family="Liberation Serif" >0</text><g transform="translate(206.3 310.1) scale(1.08 1)"><text x="0" y="0" font-size="9.8" text-anchor="start" font-weight="normal" fill="#000" stroke="#000" stroke-width="0.28" textLength="32.13" lengthAdjust="spacing" font-family="Liberation Serif" >(hours)</text></g>
<g transform="translate(537.4 310.1) scale(1.08 1)"><text x="0" y="0" font-size="9.8" text-anchor="start" font-weight="normal" fill="#000" stroke="#000" stroke-width="0.28" textLength="22.59" lengthAdjust="spacing" font-family="Liberation Serif" >Time:</text></g><text x="567.5" y="310.1" font-size="9.8" text-anchor="start" font-weight="normal" fill="#000" stroke="#000" stroke-width="0.25" font-family="Liberation Serif" >t</text><path d="M571.8 307.3h5.2" stroke="#222" stroke-width="0.9"/><text x="579" y="310.1" font-size="9.8" text-anchor="start" font-weight="normal" fill="#000" stroke="#000" stroke-width="0.25" font-family="Liberation Serif" >t</text><text x="582.9" y="314.5" font-size="8.8" text-anchor="start" font-weight="normal" fill="#000" stroke="#000" stroke-width="0.25" font-family="Liberation Serif" >0</text><g transform="translate(588.5 310.1) scale(1.08 1)"><text x="0" y="0" font-size="9.8" text-anchor="start" font-weight="normal" fill="#000" stroke="#000" stroke-width="0.28" textLength="32.13" lengthAdjust="spacing" font-family="Liberation Serif" >(hours)</text></g>
</svg></body></html>
